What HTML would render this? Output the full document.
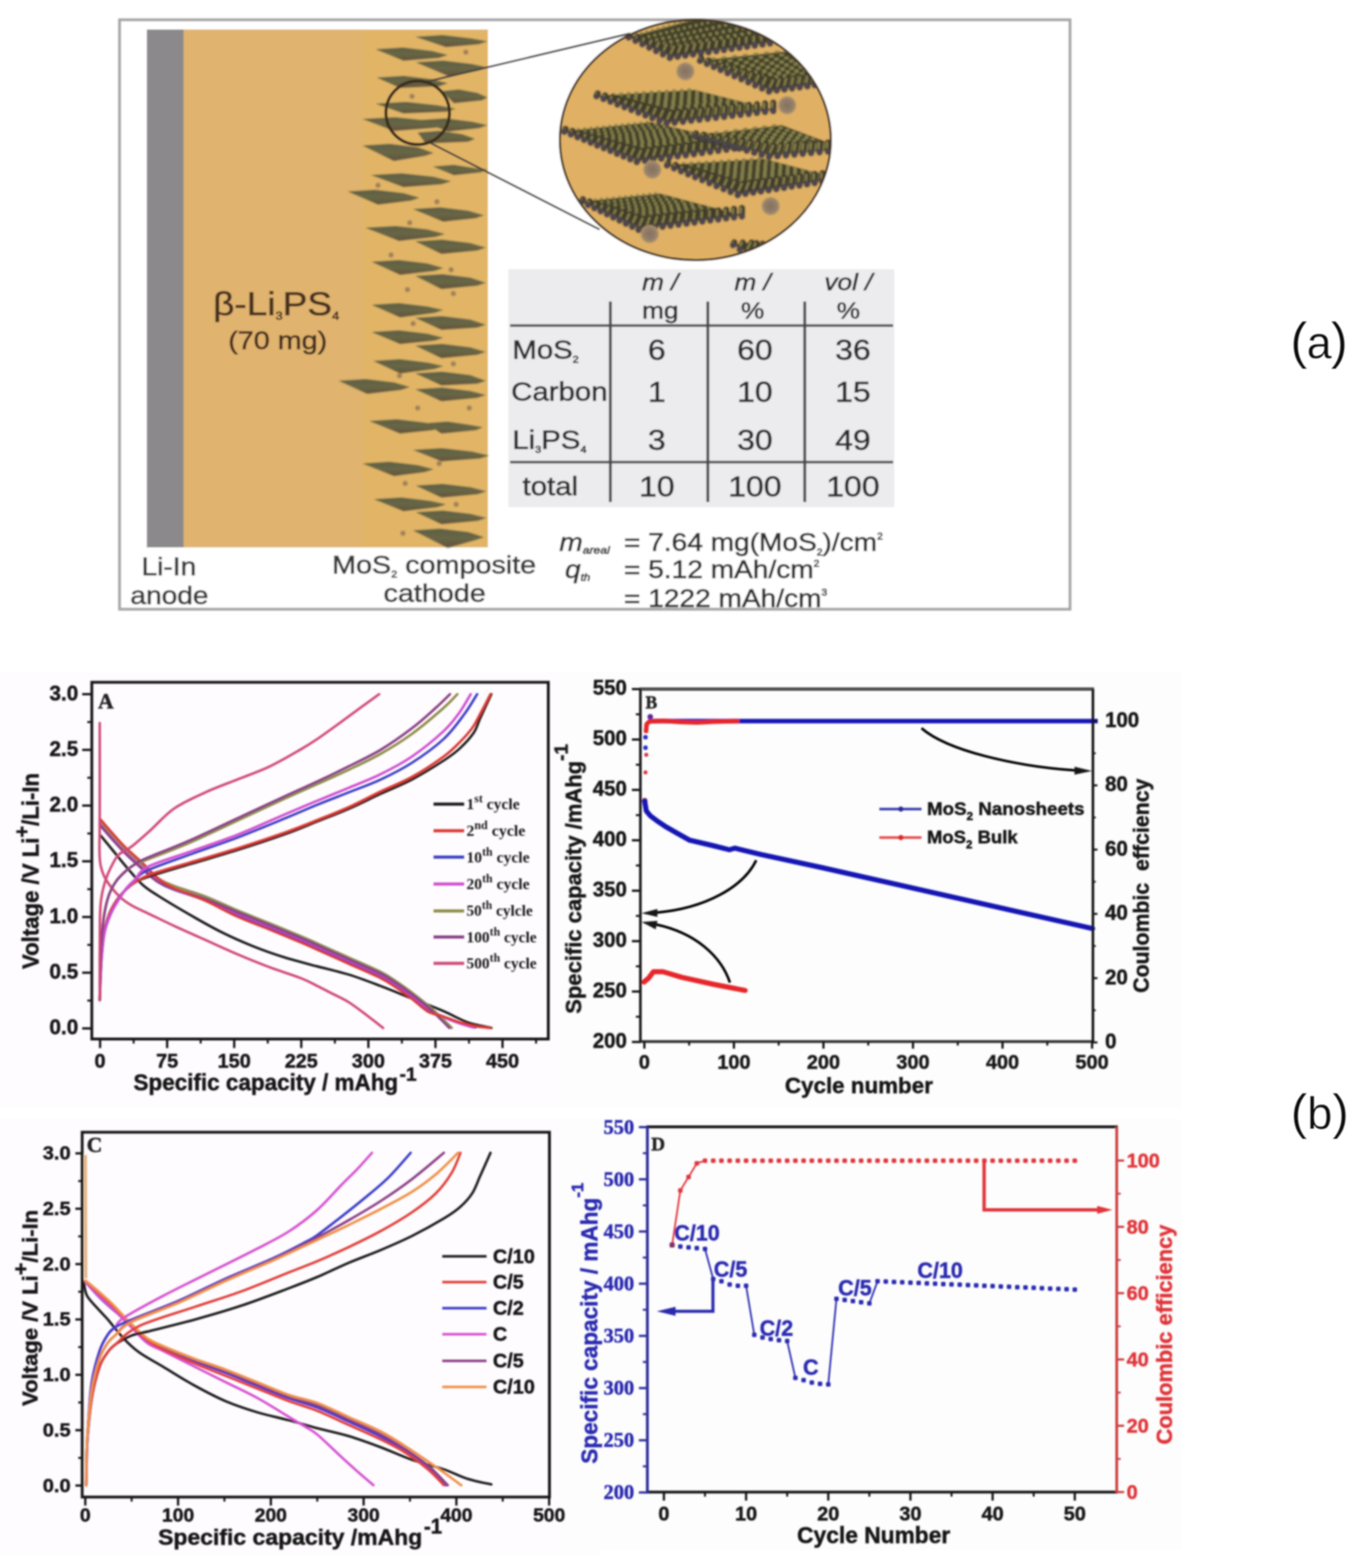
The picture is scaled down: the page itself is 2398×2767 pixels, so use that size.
<!DOCTYPE html>
<html lang="en"><head><meta charset="utf-8"><title>MoS2 nanosheet solid-state battery figure</title>
<style>html,body{margin:0;padding:0;background:#fff;}body{width:2398px;height:2767px;overflow:hidden;}svg{display:block;}text{white-space:pre;}</style></head><body>
<svg width="2398" height="2767" viewBox="0 0 2398 2767">
<defs><filter id="b1" x="-5%" y="-5%" width="110%" height="110%"><feGaussianBlur stdDeviation="1.2"/></filter><filter id="bA" x="-2%" y="-2%" width="104%" height="104%"><feGaussianBlur stdDeviation="1.5"/></filter><filter id="bC" x="-2%" y="-2%" width="104%" height="104%"><feGaussianBlur stdDeviation="1.6"/></filter><filter id="bL" x="-20%" y="-20%" width="140%" height="140%"><feGaussianBlur stdDeviation="0.9"/></filter></defs>
<rect width="2398" height="2767" fill="#fff"/>
<g id="panel-a" filter="url(#bA)">
<defs>
<linearGradient id="shg" x1="0" y1="0" x2="0" y2="1"><stop offset="0" stop-color="#636449"/><stop offset="0.5" stop-color="#6f6e48"/><stop offset="1" stop-color="#68563f"/></linearGradient>
<pattern id="rods" width="9" height="40" patternUnits="userSpaceOnUse" patternTransform="skewX(-18)"><rect width="9" height="40" fill="#4f4b36"/><rect x="0" width="4.5" height="40" fill="#9c954e"/></pattern>
<pattern id="vst" width="5" height="10" patternUnits="userSpaceOnUse"><rect width="2.2" height="10" fill="#3c3a2a"/></pattern>
<clipPath id="bigc"><ellipse cx="1227" cy="247" rx="238" ry="211"/></clipPath>
<radialGradient id="cd"><stop offset="0" stop-color="#85705f"/><stop offset="0.7" stop-color="#94806a"/><stop offset="1" stop-color="#b39668"/></radialGradient>
</defs>
<rect x="211" y="35" width="1677" height="1040" fill="#fff" stroke="#a6a6a6" stroke-width="5"/>
<rect x="259" y="52" width="66" height="914" fill="#8b898b" />
<rect x="324" y="52" width="537" height="914" fill="#e0b36e" />
<rect x="640" y="52" width="221" height="914" fill="#e2b566" />
<g filter="url(#b1)">
<path d="M733,65L781.3,62L832.1,68L860,73L844.8,78L787,83Z" fill="url(#shg)"/>
<path d="M733,65L781.3,62L832.1,68L860,73L844.8,78L787,83Z" fill="url(#vst)" opacity="0.35"/>
<path d="M663,87L711.3,84L762.1,90L790,97L774.8,102L712,107Z" fill="url(#shg)"/>
<path d="M663,87L711.3,84L762.1,90L790,97L774.8,102L712,107Z" fill="url(#vst)" opacity="0.35"/>
<path d="M734,110L781.9,107L832.3,113L860,119L844.9,124L793,135Z" fill="url(#shg)"/>
<path d="M734,110L781.9,107L832.3,113L860,119L844.9,124L793,135Z" fill="url(#vst)" opacity="0.35"/>
<path d="M665,137L712.5,134L762.5,140L790,147L775,152L706,155Z" fill="url(#shg)"/>
<path d="M665,137L712.5,134L762.5,140L790,147L775,152L706,155Z" fill="url(#vst)" opacity="0.35"/>
<path d="M779,161L809.8,158L842.2,164L860,172L850.3,177L801,182Z" fill="url(#shg)"/>
<path d="M779,161L809.8,158L842.2,164L860,172L850.3,177L801,182Z" fill="url(#vst)" opacity="0.35"/>
<path d="M663,183L716.6,180L773,186L804,192L787.1,197L712,200Z" fill="url(#shg)"/>
<path d="M663,183L716.6,180L773,186L804,192L787.1,197L712,200Z" fill="url(#vst)" opacity="0.35"/>
<path d="M640,210L697,207L757,213L790,220L772,225L695,231Z" fill="url(#shg)"/>
<path d="M640,210L697,207L757,213L790,220L772,225L695,231Z" fill="url(#vst)" opacity="0.35"/>
<path d="M740,212L785.6,209L833.6,215L860,221L845.6,226L790,232Z" fill="url(#shg)"/>
<path d="M740,212L785.6,209L833.6,215L860,221L845.6,226L790,232Z" fill="url(#vst)" opacity="0.35"/>
<path d="M737,234L775.4,231L815.8,237L838,245L825.9,250L751,253Z" fill="url(#shg)"/>
<path d="M737,234L775.4,231L815.8,237L838,245L825.9,250L751,253Z" fill="url(#vst)" opacity="0.35"/>
<path d="M640,257L687.5,254L737.5,260L765,270L750,275L695,284Z" fill="url(#shg)"/>
<path d="M640,257L687.5,254L737.5,260L765,270L750,275L695,284Z" fill="url(#vst)" opacity="0.35"/>
<path d="M764,294L800.5,291L838.9,297L860,299L848.5,304L801,309Z" fill="url(#shg)"/>
<path d="M764,294L800.5,291L838.9,297L860,299L848.5,304L801,309Z" fill="url(#vst)" opacity="0.35"/>
<path d="M655,309L708.6,306L765,312L796,320L779.1,325L712,330Z" fill="url(#shg)"/>
<path d="M655,309L708.6,306L765,312L796,320L779.1,325L712,330Z" fill="url(#vst)" opacity="0.35"/>
<path d="M614,338L661.9,335L712.3,341L740,349L724.9,354L667,361Z" fill="url(#shg)"/>
<path d="M614,338L661.9,335L712.3,341L740,349L724.9,354L667,361Z" fill="url(#vst)" opacity="0.35"/>
<path d="M729,369L776.5,366L826.5,372L854,380L839,385L782,391Z" fill="url(#shg)"/>
<path d="M729,369L776.5,366L826.5,372L854,380L839,385L782,391Z" fill="url(#vst)" opacity="0.35"/>
<path d="M645,402L698.2,399L754.2,405L785,413L768.2,418L704,425Z" fill="url(#shg)"/>
<path d="M645,402L698.2,399L754.2,405L785,413L768.2,418L704,425Z" fill="url(#vst)" opacity="0.35"/>
<path d="M733,426L780.1,423L829.7,429L857,437L842.1,442L779,448Z" fill="url(#shg)"/>
<path d="M733,426L780.1,423L829.7,429L857,437L842.1,442L779,448Z" fill="url(#vst)" opacity="0.35"/>
<path d="M656,462L703.9,459L754.3,465L782,473L766.9,478L706,485Z" fill="url(#shg)"/>
<path d="M656,462L703.9,459L754.3,465L782,473L766.9,478L706,485Z" fill="url(#vst)" opacity="0.35"/>
<path d="M733,487L780.1,484L829.7,490L857,499L842.1,504L779,510Z" fill="url(#shg)"/>
<path d="M733,487L780.1,484L829.7,490L857,499L842.1,504L779,510Z" fill="url(#vst)" opacity="0.35"/>
<path d="M656,538L703.9,535L754.3,541L782,547L766.9,552L706,560Z" fill="url(#shg)"/>
<path d="M656,538L703.9,535L754.3,541L782,547L766.9,552L706,560Z" fill="url(#vst)" opacity="0.35"/>
<path d="M733,561L780.1,558L829.7,564L857,573L842.1,578L779,582Z" fill="url(#shg)"/>
<path d="M733,561L780.1,558L829.7,564L857,573L842.1,578L779,582Z" fill="url(#vst)" opacity="0.35"/>
<path d="M656,586L703.9,583L754.3,589L782,596L766.9,601L706,607Z" fill="url(#shg)"/>
<path d="M656,586L703.9,583L754.3,589L782,596L766.9,601L706,607Z" fill="url(#vst)" opacity="0.35"/>
<path d="M733,610L780.1,607L829.7,613L857,621L842.1,626L779,632Z" fill="url(#shg)"/>
<path d="M733,610L780.1,607L829.7,613L857,621L842.1,626L779,632Z" fill="url(#vst)" opacity="0.35"/>
<path d="M659,637L705.7,634L754.9,640L782,646L767.2,651L706,659Z" fill="url(#shg)"/>
<path d="M659,637L705.7,634L754.9,640L782,646L767.2,651L706,659Z" fill="url(#vst)" opacity="0.35"/>
<path d="M733,659L780.1,656L829.7,662L857,672L842.1,677L779,680Z" fill="url(#shg)"/>
<path d="M733,659L780.1,656L829.7,662L857,672L842.1,677L779,680Z" fill="url(#vst)" opacity="0.35"/>
<path d="M598,672L645.5,669L695.5,675L723,683L708,688L648,695Z" fill="url(#shg)"/>
<path d="M598,672L645.5,669L695.5,675L723,683L708,688L648,695Z" fill="url(#vst)" opacity="0.35"/>
<path d="M733,687L780.1,684L829.7,690L857,697L842.1,702L779,708Z" fill="url(#shg)"/>
<path d="M733,687L780.1,684L829.7,690L857,697L842.1,702L779,708Z" fill="url(#vst)" opacity="0.35"/>
<path d="M652,743L700.3,740L751.1,746L779,754L763.8,759L706,765Z" fill="url(#shg)"/>
<path d="M652,743L700.3,740L751.1,746L779,754L763.8,759L706,765Z" fill="url(#vst)" opacity="0.35"/>
<path d="M751,747L789.4,744L829.8,750L852,754L839.9,759L779,765Z" fill="url(#shg)"/>
<path d="M751,747L789.4,744L829.8,750L852,754L839.9,759L779,765Z" fill="url(#vst)" opacity="0.35"/>
<path d="M729,794L779.9,791L833.5,797L863,804L846.9,809L779,814Z" fill="url(#shg)"/>
<path d="M729,794L779.9,791L833.5,797L863,804L846.9,809L779,814Z" fill="url(#vst)" opacity="0.35"/>
<path d="M640,818L687.5,815L737.5,821L765,828L750,833L695,840Z" fill="url(#shg)"/>
<path d="M640,818L687.5,815L737.5,821L765,828L750,833L695,840Z" fill="url(#vst)" opacity="0.35"/>
<path d="M734,857L781.1,854L830.7,860L858,867L843.1,872L779,878Z" fill="url(#shg)"/>
<path d="M734,857L781.1,854L830.7,860L858,867L843.1,872L779,878Z" fill="url(#vst)" opacity="0.35"/>
<path d="M660,881L708.3,878L759.1,884L787,890L771.8,895L712,902Z" fill="url(#shg)"/>
<path d="M660,881L708.3,878L759.1,884L787,890L771.8,895L712,902Z" fill="url(#vst)" opacity="0.35"/>
<path d="M734,904L781.1,901L830.7,907L858,914L843.1,919L779,925Z" fill="url(#shg)"/>
<path d="M734,904L781.1,901L830.7,907L858,914L843.1,919L779,925Z" fill="url(#vst)" opacity="0.35"/>
<path d="M729,936L776.5,933L826.5,939L854,948L839,953L790,967Z" fill="url(#shg)"/>
<path d="M729,936L776.5,933L826.5,939L854,948L839,953L790,967Z" fill="url(#vst)" opacity="0.35"/>
<circle cx="822" cy="92" r="4.5" fill="#a07f58"/>
<circle cx="727" cy="170" r="4.5" fill="#a07f58"/>
<circle cx="667" cy="327" r="4.5" fill="#a07f58"/>
<circle cx="771" cy="356" r="4.5" fill="#a07f58"/>
<circle cx="723" cy="393" r="4.5" fill="#a07f58"/>
<circle cx="690" cy="450" r="4.5" fill="#a07f58"/>
<circle cx="719" cy="511" r="4.5" fill="#a07f58"/>
<circle cx="800" cy="518" r="4.5" fill="#a07f58"/>
<circle cx="796" cy="476" r="4.5" fill="#a07f58"/>
<circle cx="729" cy="571" r="4.5" fill="#a07f58"/>
<circle cx="800" cy="642" r="4.5" fill="#a07f58"/>
<circle cx="705" cy="663" r="4.5" fill="#a07f58"/>
<circle cx="737" cy="720" r="4.5" fill="#a07f58"/>
<circle cx="828" cy="720" r="4.5" fill="#a07f58"/>
<circle cx="775" cy="818" r="4.5" fill="#a07f58"/>
<circle cx="715" cy="853" r="4.5" fill="#a07f58"/>
<circle cx="805" cy="890" r="4.5" fill="#a07f58"/>
<circle cx="711" cy="941" r="4.5" fill="#a07f58"/>
</g>
<line x1="745" y1="146" x2="1112" y2="59" stroke="#4a4440" stroke-width="3.5" />
<line x1="755" y1="250" x2="1058" y2="405" stroke="#4a4440" stroke-width="3.5" />
<circle cx="737" cy="199" r="56" fill="none" stroke="#3b2d1e" stroke-width="5.5"/>
<ellipse cx="1227" cy="247" rx="239" ry="212" fill="#e0b165"/>
<g clip-path="url(#bigc)"><g filter="url(#b1)">
<path d="M1109.6,65.4L1256.9,26.1L1385.9,70.6L1183.3,99.2Z" fill="#423f2c"/>
<path d="M1109.6,64.4L1256.9,25.1" stroke="#86814a" stroke-width="4.5" stroke-dasharray="4.6 5.6" fill="none"/>
<path d="M1121.9,70.1L1278.4,32.6" stroke="#86814a" stroke-width="5" stroke-dasharray="4.8 5.9" fill="none"/>
<path d="M1134.2,75.7L1299.9,40" stroke="#86814a" stroke-width="5.5" stroke-dasharray="5.1 6.2" fill="none"/>
<path d="M1146.4,81.3L1321.4,47.4" stroke="#86814a" stroke-width="6" stroke-dasharray="5.3 6.5" fill="none"/>
<path d="M1158.7,86.9L1342.9,54.8" stroke="#86814a" stroke-width="6.5" stroke-dasharray="5.6 6.9" fill="none"/>
<path d="M1171,92.6L1364.4,62.2" stroke="#86814a" stroke-width="7" stroke-dasharray="5.9 7.2" fill="none"/>
<path d="M1183.3,98.2L1385.9,69.6" stroke="#86814a" stroke-width="7.5" stroke-dasharray="6.1 7.5" fill="none"/>
<path d="M1111.5,61.2L1109.3,66.2M1124.8,64.7L1121.4,72.2M1138,68.2L1133.5,78.2M1151.2,71.7L1145.6,84.2M1164.5,75.2L1157.7,90.2M1177.7,78.7L1169.8,96.2M1190.9,82.2L1181.9,102.2M1203.3,80.6L1195.6,100.2M1215.8,79L1209.3,98.3M1228.4,77.3L1223,96.3M1241.1,75.7L1236.6,94.4M1253.9,74.1L1250.2,92.4M1266.8,72.5L1263.9,90.5M1279.7,70.9L1277.5,88.5M1292.8,69.2L1291.1,86.6M1305.9,67.6L1304.6,84.6M1319,66L1318.2,82.7M1332.3,64.4L1331.8,80.7M1345.6,62.8L1345.3,78.8M1358.9,61.1L1358.8,76.8M1372.4,59.5L1372.3,74.8M1385.9,57.9L1385.9,72.9" stroke="#3f3b2c" stroke-width="11" stroke-linecap="round" fill="none"/>
<path d="M1109.5,61.2L1108.2,64.2M1122.8,64.7L1120.7,69.2M1136,68.2L1133.3,74.2M1149.2,71.7L1145.8,79.2M1162.5,75.2L1158.4,84.2M1175.7,78.7L1171,89.2M1188.9,82.2L1183.5,94.2M1201.3,80.6L1196.7,92.4M1213.8,79L1209.9,90.6M1226.4,77.3L1223.2,88.7M1239.1,75.7L1236.4,86.9M1251.9,74.1L1249.7,85.1M1264.8,72.5L1263,83.3M1277.7,70.9L1276.4,81.5M1290.8,69.2L1289.7,79.6M1303.9,67.6L1303.1,77.8M1317,66L1316.5,76M1330.3,64.4L1330,74.2M1343.6,62.8L1343.4,72.4M1356.9,61.1L1356.9,70.5M1370.4,59.5L1370.4,68.7M1383.9,57.9L1383.9,66.9" stroke="#878148" stroke-width="4" stroke-linecap="round" fill="none"/>
<path d="M1109.6,65.4L1109.3,66.2M1121.9,71.1L1121.4,72.2M1134.2,76.7L1133.5,78.2M1146.4,82.3L1145.6,84.2M1158.7,87.9L1157.7,90.2M1171,93.6L1169.8,96.2M1183.3,99.2L1181.9,102.2M1196.8,97.3L1195.6,100.2M1210.3,95.4L1209.3,98.3M1223.8,93.5L1223,96.3M1237.3,91.6L1236.6,94.4M1250.8,89.7L1250.2,92.4M1264.3,87.8L1263.9,90.5M1277.8,85.9L1277.5,88.5M1291.3,84L1291.1,86.6M1304.8,82.1L1304.6,84.6M1318.3,80.2L1318.2,82.7M1331.8,78.3L1331.8,80.7M1345.3,76.4L1345.3,78.8M1358.8,74.5L1358.8,76.8M1372.3,72.5L1372.3,74.8M1385.9,70.6L1385.9,72.9" stroke="#4d4550" stroke-width="9" stroke-linecap="round" fill="none"/>
<path d="M1235.5,106.9L1404.3,89.1L1477.9,142.8L1358.2,158.7Z" fill="#423f2c"/>
<path d="M1235.5,105.9L1404.3,88.1" stroke="#86814a" stroke-width="4.5" stroke-dasharray="8.5 10.4" fill="none"/>
<path d="M1247.7,111.1L1411.6,93.4" stroke="#86814a" stroke-width="4.8" stroke-dasharray="8.2 10.1" fill="none"/>
<path d="M1260,116.2L1419,98.8" stroke="#86814a" stroke-width="5.1" stroke-dasharray="8 9.8" fill="none"/>
<path d="M1272.3,121.4L1426.4,104.2" stroke="#86814a" stroke-width="5.4" stroke-dasharray="7.8 9.5" fill="none"/>
<path d="M1284.6,126.6L1433.7,109.5" stroke="#86814a" stroke-width="5.7" stroke-dasharray="7.5 9.2" fill="none"/>
<path d="M1296.8,131.8L1441.1,114.9" stroke="#86814a" stroke-width="6" stroke-dasharray="7.3 8.9" fill="none"/>
<path d="M1309.1,137L1448.5,120.3" stroke="#86814a" stroke-width="6.3" stroke-dasharray="7 8.6" fill="none"/>
<path d="M1321.4,142.2L1455.8,125.7" stroke="#86814a" stroke-width="6.6" stroke-dasharray="6.8 8.3" fill="none"/>
<path d="M1333.7,147.4L1463.2,131" stroke="#86814a" stroke-width="6.9" stroke-dasharray="6.5 8" fill="none"/>
<path d="M1345.9,152.5L1470.6,136.4" stroke="#86814a" stroke-width="7.2" stroke-dasharray="6.3 7.7" fill="none"/>
<path d="M1358.2,157.7L1477.9,141.8" stroke="#86814a" stroke-width="7.5" stroke-dasharray="6 7.4" fill="none"/>
<path d="M1237.4,102.6L1235.1,107.6M1250.2,106.5L1247.3,113M1263.1,110.4L1259.5,118.4M1275.9,114.3L1271.6,123.8M1288.8,118.3L1283.8,129.3M1301.6,122.2L1296,134.7M1314.5,126.1L1308.2,140.1M1327.3,130L1320.3,145.5M1340.2,133.9L1332.5,150.9M1353,137.8L1344.7,156.3M1365.9,141.7L1356.9,161.7M1377.4,140.4L1370.5,159.9M1389.2,139.1L1384.1,158M1401.2,137.8L1397.6,156.2M1413.5,136.5L1411.1,154.3M1426,135.2L1424.5,152.5M1438.7,133.9L1437.9,150.6M1451.6,132.6L1451.3,148.7M1464.7,131.3L1464.6,146.9M1477.9,130L1477.9,145" stroke="#3f3b2c" stroke-width="11" stroke-linecap="round" fill="none"/>
<path d="M1235.4,102.6L1234,105.6M1248.2,106.5L1246.5,110.4M1261.1,110.4L1258.9,115.2M1273.9,114.3L1271.4,120M1286.8,118.3L1283.8,124.9M1299.6,122.2L1296.2,129.7M1312.5,126.1L1308.7,134.5M1325.3,130L1321.1,139.3M1338.2,133.9L1333.6,144.1M1351,137.8L1346,148.9M1363.9,141.7L1358.5,153.7M1375.4,140.4L1371.3,152.1M1387.2,139.1L1384.1,150.5M1399.2,137.8L1397,148.8M1411.5,136.5L1410,147.2M1424,135.2L1423.1,145.6M1436.7,133.9L1436.2,143.9M1449.6,132.6L1449.4,142.3M1462.7,131.3L1462.7,140.7M1475.9,130L1475.9,139" stroke="#878148" stroke-width="4" stroke-linecap="round" fill="none"/>
<path d="M1235.5,106.9L1235.1,107.6M1247.7,112.1L1247.3,113M1260,117.2L1259.5,118.4M1272.3,122.4L1271.6,123.8M1284.6,127.6L1283.8,129.3M1296.8,132.8L1296,134.7M1309.1,138L1308.2,140.1M1321.4,143.2L1320.3,145.5M1333.7,148.4L1332.5,150.9M1345.9,153.5L1344.7,156.3M1358.2,158.7L1356.9,161.7M1371.5,157L1370.5,159.9M1384.8,155.2L1384.1,158M1398.1,153.4L1397.6,156.2M1411.4,151.6L1411.1,154.3M1424.7,149.9L1424.5,152.5M1438,148.1L1437.9,150.6M1451.3,146.3L1451.3,148.7M1464.6,144.5L1464.6,146.9M1477.9,142.8L1477.9,145" stroke="#4d4550" stroke-width="9" stroke-linecap="round" fill="none"/>
<path d="M1052.8,169.2L1226.2,158.7L1364.4,193.7L1177.1,215.5Z" fill="#423f2c"/>
<path d="M1052.8,168.2L1226.2,157.7" stroke="#86814a" stroke-width="4.5" stroke-dasharray="6 7.4" fill="none"/>
<path d="M1065.3,172.8L1240.1,161.2" stroke="#86814a" stroke-width="4.8" stroke-dasharray="6.1 7.4" fill="none"/>
<path d="M1077.7,177.4L1253.9,164.7" stroke="#86814a" stroke-width="5.1" stroke-dasharray="6.1 7.5" fill="none"/>
<path d="M1090.1,182.1L1267.7,168.2" stroke="#86814a" stroke-width="5.4" stroke-dasharray="6.2 7.5" fill="none"/>
<path d="M1102.5,186.7L1281.5,171.7" stroke="#86814a" stroke-width="5.7" stroke-dasharray="6.2 7.6" fill="none"/>
<path d="M1115,191.3L1295.3,175.2" stroke="#86814a" stroke-width="6" stroke-dasharray="6.3 7.7" fill="none"/>
<path d="M1127.4,196L1309.1,178.7" stroke="#86814a" stroke-width="6.3" stroke-dasharray="6.3 7.7" fill="none"/>
<path d="M1139.8,200.6L1322.9,182.2" stroke="#86814a" stroke-width="6.6" stroke-dasharray="6.4 7.8" fill="none"/>
<path d="M1152.3,205.2L1336.7,185.7" stroke="#86814a" stroke-width="6.9" stroke-dasharray="6.4 7.8" fill="none"/>
<path d="M1164.7,209.9L1350.6,189.2" stroke="#86814a" stroke-width="7.2" stroke-dasharray="6.5 7.9" fill="none"/>
<path d="M1177.1,214.5L1364.4,192.7" stroke="#86814a" stroke-width="7.5" stroke-dasharray="6.5 8" fill="none"/>
<path d="M1054.7,164.9L1052.5,169.9M1067.7,168.3L1064.8,174.8M1080.7,171.6L1077.1,179.6M1093.8,175L1089.5,184.5M1106.8,178.4L1101.8,189.4M1119.8,181.7L1114.1,194.2M1132.8,185.1L1126.5,199.1M1145.8,188.4L1138.8,203.9M1158.8,191.8L1151.1,208.8M1171.8,195.2L1163.5,213.7M1184.8,198.5L1175.8,218.5M1197.9,197.2L1190.4,216.8M1211.2,195.8L1205,215.1M1224.6,194.5L1219.6,213.3M1238.1,193.1L1234.1,211.6M1251.8,191.8L1248.7,209.8M1265.5,190.4L1263.2,208.1M1279.4,189.1L1277.7,206.4M1293.3,187.7L1292.2,204.6M1307.4,186.4L1306.6,202.9M1321.5,185L1321.1,201.2M1335.7,183.7L1335.5,199.4M1350,182.3L1350,197.7M1364.4,181L1364.4,196" stroke="#3f3b2c" stroke-width="11" stroke-linecap="round" fill="none"/>
<path d="M1052.7,164.9L1051.4,167.9M1065.7,168.3L1064,172.2M1078.7,171.6L1076.6,176.4M1091.8,175L1089.2,180.7M1104.8,178.4L1101.8,185M1117.8,181.7L1114.4,189.2M1130.8,185.1L1127,193.5M1143.8,188.4L1139.6,197.7M1156.8,191.8L1152.2,202M1169.8,195.2L1164.8,206.3M1182.8,198.5L1177.4,210.5M1195.9,197.2L1191.4,208.9M1209.2,195.8L1205.5,207.4M1222.6,194.5L1219.6,205.8M1236.1,193.1L1233.7,204.2M1249.8,191.8L1247.9,202.6M1263.5,190.4L1262.1,201M1277.4,189.1L1276.4,199.5M1291.3,187.7L1290.6,197.9M1305.4,186.4L1304.9,196.3M1319.5,185L1319.3,194.7M1333.7,183.7L1333.6,193.1M1348,182.3L1348,191.6M1362.4,181L1362.4,190" stroke="#878148" stroke-width="4" stroke-linecap="round" fill="none"/>
<path d="M1052.8,169.2L1052.5,169.9M1065.3,173.8L1064.8,174.8M1077.7,178.4L1077.1,179.6M1090.1,183.1L1089.5,184.5M1102.5,187.7L1101.8,189.4M1115,192.3L1114.1,194.2M1127.4,197L1126.5,199.1M1139.8,201.6L1138.8,203.9M1152.3,206.2L1151.1,208.8M1164.7,210.9L1163.5,213.7M1177.1,215.5L1175.8,218.5M1191.5,213.8L1190.4,216.8M1205.9,212.2L1205,215.1M1220.3,210.5L1219.6,213.3M1234.7,208.8L1234.1,211.6M1249.1,207.1L1248.7,209.8M1263.5,205.5L1263.2,208.1M1278,203.8L1277.7,206.4M1292.4,202.1L1292.2,204.6M1306.8,200.4L1306.6,202.9M1321.2,198.8L1321.1,201.2M1335.6,197.1L1335.5,199.4M1350,195.4L1350,197.7M1364.4,193.7L1364.4,196" stroke="#4d4550" stroke-width="9" stroke-linecap="round" fill="none"/>
<path d="M996,231.8L1149.5,215.8L1324.5,256.3L1125,283Z" fill="#423f2c"/>
<path d="M996,230.8L1149.5,214.8" stroke="#86814a" stroke-width="4.5" stroke-dasharray="5 6.1" fill="none"/>
<path d="M1007.8,235.4L1165.4,218.5" stroke="#86814a" stroke-width="4.8" stroke-dasharray="5.1 6.2" fill="none"/>
<path d="M1019.5,240.1L1181.3,222.2" stroke="#86814a" stroke-width="5" stroke-dasharray="5.2 6.4" fill="none"/>
<path d="M1031.2,244.8L1197.2,225.9" stroke="#86814a" stroke-width="5.3" stroke-dasharray="5.4 6.6" fill="none"/>
<path d="M1042.9,249.4L1213.1,229.6" stroke="#86814a" stroke-width="5.6" stroke-dasharray="5.5 6.7" fill="none"/>
<path d="M1054.6,254.1L1229,233.2" stroke="#86814a" stroke-width="5.9" stroke-dasharray="5.6 6.9" fill="none"/>
<path d="M1066.4,258.7L1244.9,236.9" stroke="#86814a" stroke-width="6.1" stroke-dasharray="5.8 7.1" fill="none"/>
<path d="M1078.1,263.4L1260.8,240.6" stroke="#86814a" stroke-width="6.4" stroke-dasharray="5.9 7.2" fill="none"/>
<path d="M1089.8,268.1L1276.7,244.3" stroke="#86814a" stroke-width="6.7" stroke-dasharray="6.1 7.4" fill="none"/>
<path d="M1101.5,272.7L1292.7,248" stroke="#86814a" stroke-width="7" stroke-dasharray="6.2 7.6" fill="none"/>
<path d="M1113.2,277.4L1308.6,251.7" stroke="#86814a" stroke-width="7.2" stroke-dasharray="6.3 7.7" fill="none"/>
<path d="M1125,282L1324.5,255.3" stroke="#86814a" stroke-width="7.5" stroke-dasharray="6.5 7.9" fill="none"/>
<path d="M998,227.5L995.7,232.5M1010.2,231L1007.3,237.4M1022.4,234.5L1019,242.3M1034.7,238L1030.6,247.1M1046.9,241.5L1042.2,252M1059.2,245L1053.8,256.9M1071.4,248.5L1065.5,261.7M1083.6,252L1077.1,266.6M1095.9,255.5L1088.7,271.5M1108.1,259L1100.3,276.3M1120.4,262.5L1112,281.2M1132.6,266L1123.6,286M1145.7,264.4L1138.1,284.1M1158.9,262.8L1152.5,282.1M1172.2,261.2L1166.9,280.2M1185.6,259.6L1181.3,278.2M1199.1,258L1195.7,276.2M1212.7,256.4L1210.1,274.3M1226.4,254.8L1224.4,272.3M1240.2,253.2L1238.7,270.4M1254,251.6L1253.1,268.4M1268,250L1267.4,266.4M1282,248.4L1281.7,264.5M1296.1,246.8L1295.9,262.5M1310.2,245.2L1310.2,260.6M1324.5,243.6L1324.5,258.6" stroke="#3f3b2c" stroke-width="11" stroke-linecap="round" fill="none"/>
<path d="M996,227.5L994.6,230.5M1008.2,231L1006.5,234.9M1020.4,234.5L1018.3,239.2M1032.7,238L1030.2,243.5M1044.9,241.5L1042.1,247.8M1057.2,245L1054,252.1M1069.4,248.5L1065.8,256.5M1081.6,252L1077.7,260.8M1093.9,255.5L1089.6,265.1M1106.1,259L1101.5,269.4M1118.4,262.5L1113.3,273.7M1130.6,266L1125.2,278M1143.7,264.4L1139.1,276.2M1156.9,262.8L1153,274.4M1170.2,261.2L1167,272.6M1183.6,259.6L1181,270.8M1197.1,258L1195.1,269M1210.7,256.4L1209.1,267.1M1224.4,254.8L1223.2,265.3M1238.2,253.2L1237.3,263.5M1252,251.6L1251.5,261.7M1266,250L1265.6,259.9M1280,248.4L1279.8,258M1294.1,246.8L1294,256.2M1308.2,245.2L1308.2,254.4M1322.5,243.6L1322.5,252.6" stroke="#878148" stroke-width="4" stroke-linecap="round" fill="none"/>
<path d="M996,231.8L995.7,232.5M1007.8,236.4L1007.3,237.4M1019.5,241.1L1019,242.3M1031.2,245.8L1030.6,247.1M1042.9,250.4L1042.2,252M1054.6,255.1L1053.8,256.9M1066.4,259.7L1065.5,261.7M1078.1,264.4L1077.1,266.6M1089.8,269.1L1088.7,271.5M1101.5,273.7L1100.3,276.3M1113.2,278.4L1112,281.2M1125,283L1123.6,286M1139.2,281.1L1138.1,284.1M1153.5,279.2L1152.5,282.1M1167.7,277.3L1166.9,280.2M1182,275.4L1181.3,278.2M1196.2,273.5L1195.7,276.2M1210.5,271.6L1210.1,274.3M1224.7,269.7L1224.4,272.3M1239,267.8L1238.7,270.4M1253.2,265.9L1253.1,268.4M1267.5,264L1267.4,266.4M1281.7,262.1L1281.7,264.5M1296,260.2L1295.9,262.5M1310.2,258.2L1310.2,260.6M1324.5,256.3L1324.5,258.6" stroke="#4d4550" stroke-width="9" stroke-linecap="round" fill="none"/>
<path d="M1226.2,239.5L1379.7,221L1490.2,262.5L1358.2,274.1Z" fill="#423f2c"/>
<path d="M1226.2,238.5L1379.7,220" stroke="#86814a" stroke-width="4.5" stroke-dasharray="7.7 9.4" fill="none"/>
<path d="M1239.4,241.9L1390.8,224.2" stroke="#86814a" stroke-width="4.8" stroke-dasharray="7.6 9.3" fill="none"/>
<path d="M1252.6,245.4L1401.8,228.3" stroke="#86814a" stroke-width="5.1" stroke-dasharray="7.5 9.2" fill="none"/>
<path d="M1265.8,248.9L1412.9,232.5" stroke="#86814a" stroke-width="5.4" stroke-dasharray="7.4 9" fill="none"/>
<path d="M1279,252.3L1423.9,236.6" stroke="#86814a" stroke-width="5.7" stroke-dasharray="7.3 8.9" fill="none"/>
<path d="M1292.2,255.8L1435,240.8" stroke="#86814a" stroke-width="6" stroke-dasharray="7.2 8.8" fill="none"/>
<path d="M1305.4,259.3L1446,244.9" stroke="#86814a" stroke-width="6.3" stroke-dasharray="7.1 8.6" fill="none"/>
<path d="M1318.6,262.7L1457.1,249" stroke="#86814a" stroke-width="6.6" stroke-dasharray="7 8.5" fill="none"/>
<path d="M1331.8,266.2L1468.1,253.2" stroke="#86814a" stroke-width="6.9" stroke-dasharray="6.8 8.4" fill="none"/>
<path d="M1345,269.7L1479.2,257.3" stroke="#86814a" stroke-width="7.2" stroke-dasharray="6.7 8.2" fill="none"/>
<path d="M1358.2,273.1L1490.2,261.5" stroke="#86814a" stroke-width="7.5" stroke-dasharray="6.6 8.1" fill="none"/>
<path d="M1228.2,235.2L1225.9,240.2M1241.9,237.4L1239,243.9M1255.7,239.6L1252.1,247.6M1269.5,241.8L1265.2,251.3M1283.2,244L1278.3,255M1297,246.2L1291.4,258.7M1310.8,248.4L1304.5,262.4M1324.6,250.6L1317.6,266.1M1338.3,252.8L1330.7,269.8M1352.1,255L1343.8,273.5M1365.9,257.1L1356.9,277.1M1378.8,256.3L1371.9,275.8M1391.9,255.5L1386.8,274.4M1405.3,254.7L1401.7,273M1419,253.8L1416.5,271.6M1432.9,253L1431.3,270.2M1446.9,252.2L1446.1,268.9M1461.2,251.4L1460.8,267.5M1475.6,250.6L1475.5,266.1M1490.2,249.7L1490.2,264.7" stroke="#3f3b2c" stroke-width="11" stroke-linecap="round" fill="none"/>
<path d="M1226.2,235.2L1224.8,238.2M1239.9,237.4L1238.2,241.3M1253.7,239.6L1251.5,244.4M1267.5,241.8L1264.9,247.5M1281.2,244L1278.3,250.6M1295,246.2L1291.6,253.7M1308.8,248.4L1305,256.8M1322.6,250.6L1318.4,259.9M1336.3,252.8L1331.7,263M1350.1,255L1345.1,266.1M1363.9,257.1L1358.5,269.1M1376.8,256.3L1372.6,268M1389.9,255.5L1386.8,266.8M1403.3,254.7L1401.1,265.7M1417,253.8L1415.5,264.5M1430.9,253L1429.9,263.4M1444.9,252.2L1444.4,262.2M1459.2,251.4L1459,261M1473.6,250.6L1473.6,259.9M1488.2,249.7L1488.2,258.7" stroke="#878148" stroke-width="4" stroke-linecap="round" fill="none"/>
<path d="M1226.2,239.5L1225.9,240.2M1239.4,242.9L1239,243.9M1252.6,246.4L1252.1,247.6M1265.8,249.9L1265.2,251.3M1279,253.3L1278.3,255M1292.2,256.8L1291.4,258.7M1305.4,260.3L1304.5,262.4M1318.6,263.7L1317.6,266.1M1331.8,267.2L1330.7,269.8M1345,270.7L1343.8,273.5M1358.2,274.1L1356.9,277.1M1372.9,272.8L1371.9,275.8M1387.6,271.6L1386.8,274.4M1402.2,270.3L1401.7,273M1416.9,269L1416.5,271.6M1431.5,267.7L1431.3,270.2M1446.2,266.4L1446.1,268.9M1460.9,265.1L1460.8,267.5M1475.5,263.8L1475.5,266.1M1490.2,262.5L1490.2,264.7" stroke="#4d4550" stroke-width="9" stroke-linecap="round" fill="none"/>
<path d="M1177.1,291.3L1349,280.3L1477.9,314.7L1303,341.4Z" fill="#423f2c"/>
<path d="M1177.1,290.3L1349,279.3" stroke="#86814a" stroke-width="4.5" stroke-dasharray="6 7.3" fill="none"/>
<path d="M1189.7,295.3L1361.9,282.7" stroke="#86814a" stroke-width="4.8" stroke-dasharray="6 7.3" fill="none"/>
<path d="M1202.3,300.3L1374.8,286.2" stroke="#86814a" stroke-width="5.1" stroke-dasharray="6 7.3" fill="none"/>
<path d="M1214.9,305.3L1387.7,289.6" stroke="#86814a" stroke-width="5.4" stroke-dasharray="6 7.3" fill="none"/>
<path d="M1227.5,310.3L1400.6,293" stroke="#86814a" stroke-width="5.7" stroke-dasharray="6 7.4" fill="none"/>
<path d="M1240.1,315.3L1413.5,296.5" stroke="#86814a" stroke-width="6" stroke-dasharray="6 7.4" fill="none"/>
<path d="M1252.6,320.4L1426.4,299.9" stroke="#86814a" stroke-width="6.3" stroke-dasharray="6.1 7.4" fill="none"/>
<path d="M1265.2,325.4L1439.3,303.3" stroke="#86814a" stroke-width="6.6" stroke-dasharray="6.1 7.4" fill="none"/>
<path d="M1277.8,330.4L1452.1,306.8" stroke="#86814a" stroke-width="6.9" stroke-dasharray="6.1 7.4" fill="none"/>
<path d="M1290.4,335.4L1465,310.2" stroke="#86814a" stroke-width="7.2" stroke-dasharray="6.1 7.5" fill="none"/>
<path d="M1303,340.4L1477.9,313.7" stroke="#86814a" stroke-width="7.5" stroke-dasharray="6.1 7.5" fill="none"/>
<path d="M1179,287.1L1176.8,292.1M1192.2,290.8L1189.3,297.3M1205.4,294.5L1201.8,302.5M1218.5,298.3L1214.2,307.8M1231.7,302L1226.7,313M1244.8,305.7L1239.2,318.2M1258,309.5L1251.7,323.5M1271.2,313.2L1264.2,328.7M1284.3,316.9L1276.7,333.9M1297.5,320.6L1289.1,339.1M1310.6,324.4L1301.6,344.4M1322.8,322.6L1315.3,342.3M1335.2,320.9L1329,340.1M1347.6,319.2L1342.6,338M1360.2,317.5L1356.2,335.9M1372.9,315.7L1369.8,333.8M1385.7,314L1383.4,331.7M1398.6,312.3L1396.9,329.6M1411.6,310.5L1410.5,327.5M1424.7,308.8L1424,325.4M1437.9,307.1L1437.5,323.2M1451.2,305.4L1451,321.1M1464.5,303.6L1464.5,319M1477.9,301.9L1477.9,316.9" stroke="#3f3b2c" stroke-width="11" stroke-linecap="round" fill="none"/>
<path d="M1177,287.1L1175.7,290.1M1190.2,290.8L1188.4,294.7M1203.4,294.5L1201.2,299.3M1216.5,298.3L1214,304M1229.7,302L1226.7,308.6M1242.8,305.7L1239.5,313.2M1256,309.5L1252.2,317.9M1269.2,313.2L1265,322.5M1282.3,316.9L1277.7,327.1M1295.5,320.6L1290.5,331.7M1308.6,324.4L1303.2,336.4M1320.8,322.6L1316.3,334.4M1333.2,320.9L1329.4,332.4M1345.6,319.2L1342.6,330.5M1358.2,317.5L1355.8,328.5M1370.9,315.7L1369,326.6M1383.7,314L1382.3,324.6M1396.6,312.3L1395.6,322.7M1409.6,310.5L1408.9,320.7M1422.7,308.8L1422.3,318.7M1435.9,307.1L1435.7,316.8M1449.2,305.4L1449.1,314.8M1462.5,303.6L1462.5,312.9M1475.9,301.9L1475.9,310.9" stroke="#878148" stroke-width="4" stroke-linecap="round" fill="none"/>
<path d="M1177.1,291.3L1176.8,292.1M1189.7,296.3L1189.3,297.3M1202.3,301.3L1201.8,302.5M1214.9,306.3L1214.2,307.8M1227.5,311.3L1226.7,313M1240.1,316.3L1239.2,318.2M1252.6,321.4L1251.7,323.5M1265.2,326.4L1264.2,328.7M1277.8,331.4L1276.7,333.9M1290.4,336.4L1289.1,339.1M1303,341.4L1301.6,344.4M1316.4,339.3L1315.3,342.3M1329.9,337.3L1329,340.1M1343.4,335.2L1342.6,338M1356.8,333.1L1356.2,335.9M1370.3,331.1L1369.8,333.8M1383.7,329L1383.4,331.7M1397.2,327L1396.9,329.6M1410.6,324.9L1410.5,327.5M1424.1,322.9L1424,325.4M1437.6,320.8L1437.5,323.2M1451,318.8L1451,321.1M1464.5,316.7L1464.5,319M1477.9,314.7L1477.9,316.9" stroke="#4d4550" stroke-width="9" stroke-linecap="round" fill="none"/>
<path d="M1026.7,355.8L1164.9,341.7L1309.1,379.7L1128,402.8Z" fill="#423f2c"/>
<path d="M1026.7,354.8L1164.9,340.7" stroke="#86814a" stroke-width="4.5" stroke-dasharray="4.8 5.9" fill="none"/>
<path d="M1038,360L1180.9,344.9" stroke="#86814a" stroke-width="4.8" stroke-dasharray="5 6.1" fill="none"/>
<path d="M1049.2,365.2L1196.9,349.1" stroke="#86814a" stroke-width="5.2" stroke-dasharray="5.1 6.3" fill="none"/>
<path d="M1060.5,370.4L1212.9,353.4" stroke="#86814a" stroke-width="5.5" stroke-dasharray="5.3 6.5" fill="none"/>
<path d="M1071.8,375.7L1229,357.6" stroke="#86814a" stroke-width="5.8" stroke-dasharray="5.5 6.7" fill="none"/>
<path d="M1083,380.9L1245,361.8" stroke="#86814a" stroke-width="6.2" stroke-dasharray="5.6 6.9" fill="none"/>
<path d="M1094.3,386.1L1261,366" stroke="#86814a" stroke-width="6.5" stroke-dasharray="5.8 7.1" fill="none"/>
<path d="M1105.5,391.3L1277.1,370.3" stroke="#86814a" stroke-width="6.8" stroke-dasharray="6 7.3" fill="none"/>
<path d="M1116.8,396.5L1293.1,374.5" stroke="#86814a" stroke-width="7.2" stroke-dasharray="6.2 7.5" fill="none"/>
<path d="M1128,401.8L1309.1,378.7" stroke="#86814a" stroke-width="7.5" stroke-dasharray="6.3 7.7" fill="none"/>
<path d="M1028.6,351.5L1026.4,356.5M1040.5,355.3L1037.5,362M1052.4,359.1L1048.7,367.5M1064.3,362.9L1059.8,372.9M1076.2,366.7L1071,378.4M1088.1,370.5L1082.1,383.9M1100,374.3L1093.2,389.3M1111.9,378.1L1104.4,394.8M1123.8,381.9L1115.5,400.3M1135.7,385.8L1126.7,405.8M1148.3,384.3L1140.8,403.9M1161.2,382.9L1155,402.1M1174.1,381.4L1169.1,400.3M1187.1,380L1183.1,398.4M1200.3,378.5L1197.2,396.6M1213.6,377.1L1211.3,394.8M1226.9,375.6L1225.3,393M1240.4,374.2L1239.3,391.1M1254,372.8L1253.3,389.3M1267.7,371.3L1267.3,387.5M1281.4,369.9L1281.2,385.6M1295.2,368.4L1295.2,383.8M1309.1,367L1309.1,382" stroke="#3f3b2c" stroke-width="11" stroke-linecap="round" fill="none"/>
<path d="M1026.6,351.5L1025.3,354.5M1038.5,355.3L1036.7,359.3M1050.4,359.1L1048.2,364.1M1062.3,362.9L1059.6,368.9M1074.2,366.7L1071.1,373.7M1086.1,370.5L1082.5,378.5M1098,374.3L1093.9,383.3M1109.9,378.1L1105.4,388.1M1121.8,381.9L1116.8,392.9M1133.7,385.8L1128.3,397.8M1146.3,384.3L1141.8,396.1M1159.2,382.9L1155.4,394.4M1172.1,381.4L1169.1,392.7M1185.1,380L1182.7,391.1M1198.3,378.5L1196.4,389.4M1211.6,377.1L1210.2,387.7M1224.9,375.6L1223.9,386M1238.4,374.2L1237.7,384.4M1252,372.8L1251.6,382.7M1265.7,371.3L1265.4,381M1279.4,369.9L1279.3,379.3M1293.2,368.4L1293.2,377.7M1307.1,367L1307.1,376" stroke="#878148" stroke-width="4" stroke-linecap="round" fill="none"/>
<path d="M1026.7,355.8L1026.4,356.5M1038,361L1037.5,362M1049.2,366.2L1048.7,367.5M1060.5,371.4L1059.8,372.9M1071.8,376.7L1071,378.4M1083,381.9L1082.1,383.9M1094.3,387.1L1093.2,389.3M1105.5,392.3L1104.4,394.8M1116.8,397.5L1115.5,400.3M1128,402.8L1126.7,405.8M1142,401L1140.8,403.9M1155.9,399.2L1155,402.1M1169.8,397.4L1169.1,400.3M1183.7,395.7L1183.1,398.4M1197.7,393.9L1197.2,396.6M1211.6,392.1L1211.3,394.8M1225.5,390.4L1225.3,393M1239.5,388.6L1239.3,391.1M1253.4,386.8L1253.3,389.3M1267.3,385L1267.3,387.5M1281.3,383.3L1281.2,385.6M1295.2,381.5L1295.2,383.8M1309.1,379.7L1309.1,382" stroke="#4d4550" stroke-width="9" stroke-linecap="round" fill="none"/>
<path d="M1293.8,431.9L1336.7,425.8L1358.2,443.6L1318.3,445.1Z" fill="#423f2c"/>
<path d="M1293.8,430.9L1336.7,424.8" stroke="#86814a" stroke-width="4.5" stroke-dasharray="6.5 8" fill="none"/>
<path d="M1306,437.5L1347.5,433.7" stroke="#86814a" stroke-width="6" stroke-dasharray="6.2 7.6" fill="none"/>
<path d="M1318.3,444.1L1358.2,442.6" stroke="#86814a" stroke-width="7.5" stroke-dasharray="6 7.3" fill="none"/>
<path d="M1295.7,427.7L1293.4,432.7M1310.8,427.9L1305.2,440.4M1326,428.1L1317,448.1M1334.7,429L1331.1,447.3M1345.6,429.9L1344.8,446.6M1358.2,430.8L1358.2,445.8" stroke="#3f3b2c" stroke-width="11" stroke-linecap="round" fill="none"/>
<path d="M1293.7,427.7L1292.3,430.7M1308.8,427.9L1305.5,435.4M1324,428.1L1318.6,440.1M1332.7,429L1330.5,440M1343.6,429.9L1343.1,439.9M1356.2,430.8L1356.2,439.8" stroke="#878148" stroke-width="4" stroke-linecap="round" fill="none"/>
<path d="M1293.8,431.9L1293.4,432.7M1306,438.5L1305.2,440.4M1318.3,445.1L1317,448.1M1331.6,444.6L1331.1,447.3M1344.9,444.1L1344.8,446.6M1358.2,443.6L1358.2,445.8" stroke="#4d4550" stroke-width="9" stroke-linecap="round" fill="none"/>
<circle cx="1209.4" cy="125.9" r="16" fill="url(#cd)"/>
<circle cx="1388.9" cy="185.7" r="16" fill="url(#cd)"/>
<circle cx="1151" cy="299.3" r="16" fill="url(#cd)"/>
<circle cx="1359.8" cy="363.8" r="16" fill="url(#cd)"/>
<circle cx="1146.4" cy="412.9" r="16" fill="url(#cd)"/>
</g></g>
<ellipse cx="1227" cy="247" rx="239" ry="212" fill="none" stroke="#4a3828" stroke-width="4"/>
<rect x="897" y="475" width="681" height="420" fill="#ececee" />
<line x1="900" y1="574.5" x2="1576" y2="574.5" stroke="#5a5a5c" stroke-width="5" />
<line x1="900" y1="815.5" x2="1576" y2="815.5" stroke="#5a5a5c" stroke-width="5" />
<line x1="1077" y1="532" x2="1077" y2="886" stroke="#4a4a4c" stroke-width="5" />
<line x1="1249" y1="532" x2="1249" y2="886" stroke="#4a4a4c" stroke-width="5" />
<line x1="1420" y1="532" x2="1420" y2="886" stroke="#4a4a4c" stroke-width="5" />
<text transform="translate(1165,512) scale(1.127,1)" font-family="'Liberation Sans', sans-serif" font-size="41" font-style="italic" fill="#2e2e2e" stroke="#2e2e2e" stroke-width="1.1" text-anchor="middle">m /</text>
<text transform="translate(1165,562) scale(1.127,1)" font-family="'Liberation Sans', sans-serif" font-size="41" font-style="normal" fill="#2e2e2e" stroke="#2e2e2e" stroke-width="1.1" text-anchor="middle">mg</text>
<text transform="translate(1328,512) scale(1.127,1)" font-family="'Liberation Sans', sans-serif" font-size="41" font-style="italic" fill="#2e2e2e" stroke="#2e2e2e" stroke-width="1.1" text-anchor="middle">m /</text>
<text transform="translate(1328,562) scale(1.127,1)" font-family="'Liberation Sans', sans-serif" font-size="41" font-style="normal" fill="#2e2e2e" stroke="#2e2e2e" stroke-width="1.1" text-anchor="middle">%</text>
<text transform="translate(1497,512) scale(1.127,1)" font-family="'Liberation Sans', sans-serif" font-size="41" font-style="italic" fill="#2e2e2e" stroke="#2e2e2e" stroke-width="1.1" text-anchor="middle">vol /</text>
<text transform="translate(1497,562) scale(1.127,1)" font-family="'Liberation Sans', sans-serif" font-size="41" font-style="normal" fill="#2e2e2e" stroke="#2e2e2e" stroke-width="1.1" text-anchor="middle">%</text>
<text transform="translate(904,633) scale(1.127,1)" font-family="'Liberation Sans', sans-serif" font-size="46" font-style="normal" fill="#2e2e2e" stroke="#2e2e2e" stroke-width="1.1" text-anchor="start">MoS<tspan font-size="17" dy="7">2</tspan><tspan dy="-7" font-size="1">&#8203;</tspan></text>
<text transform="translate(1159,635) scale(1.127,1)" font-family="'Liberation Sans', sans-serif" font-size="50" font-style="normal" fill="#2e2e2e" stroke="#2e2e2e" stroke-width="1.1" text-anchor="middle">6</text>
<text transform="translate(1332,635) scale(1.127,1)" font-family="'Liberation Sans', sans-serif" font-size="50" font-style="normal" fill="#2e2e2e" stroke="#2e2e2e" stroke-width="1.1" text-anchor="middle">60</text>
<text transform="translate(1505,635) scale(1.127,1)" font-family="'Liberation Sans', sans-serif" font-size="50" font-style="normal" fill="#2e2e2e" stroke="#2e2e2e" stroke-width="1.1" text-anchor="middle">36</text>
<text transform="translate(902,707) scale(1.127,1)" font-family="'Liberation Sans', sans-serif" font-size="46" font-style="normal" fill="#2e2e2e" stroke="#2e2e2e" stroke-width="1.1" text-anchor="start">Carbon</text>
<text transform="translate(1159,709) scale(1.127,1)" font-family="'Liberation Sans', sans-serif" font-size="50" font-style="normal" fill="#2e2e2e" stroke="#2e2e2e" stroke-width="1.1" text-anchor="middle">1</text>
<text transform="translate(1332,709) scale(1.127,1)" font-family="'Liberation Sans', sans-serif" font-size="50" font-style="normal" fill="#2e2e2e" stroke="#2e2e2e" stroke-width="1.1" text-anchor="middle">10</text>
<text transform="translate(1505,709) scale(1.127,1)" font-family="'Liberation Sans', sans-serif" font-size="50" font-style="normal" fill="#2e2e2e" stroke="#2e2e2e" stroke-width="1.1" text-anchor="middle">15</text>
<text transform="translate(904,791.5) scale(1.127,1)" font-family="'Liberation Sans', sans-serif" font-size="46" font-style="normal" fill="#2e2e2e" stroke="#2e2e2e" stroke-width="1.1" text-anchor="start">Li<tspan font-size="17" dy="7">3</tspan><tspan dy="-7" font-size="1">&#8203;</tspan>PS<tspan font-size="17" dy="7">4</tspan><tspan dy="-7" font-size="1">&#8203;</tspan></text>
<text transform="translate(1159,793.5) scale(1.127,1)" font-family="'Liberation Sans', sans-serif" font-size="50" font-style="normal" fill="#2e2e2e" stroke="#2e2e2e" stroke-width="1.1" text-anchor="middle">3</text>
<text transform="translate(1332,793.5) scale(1.127,1)" font-family="'Liberation Sans', sans-serif" font-size="50" font-style="normal" fill="#2e2e2e" stroke="#2e2e2e" stroke-width="1.1" text-anchor="middle">30</text>
<text transform="translate(1505,793.5) scale(1.127,1)" font-family="'Liberation Sans', sans-serif" font-size="50" font-style="normal" fill="#2e2e2e" stroke="#2e2e2e" stroke-width="1.1" text-anchor="middle">49</text>
<text transform="translate(922,874) scale(1.127,1)" font-family="'Liberation Sans', sans-serif" font-size="46" font-style="normal" fill="#2e2e2e" stroke="#2e2e2e" stroke-width="1.1" text-anchor="start">total</text>
<text transform="translate(1159,876) scale(1.127,1)" font-family="'Liberation Sans', sans-serif" font-size="50" font-style="normal" fill="#2e2e2e" stroke="#2e2e2e" stroke-width="1.1" text-anchor="middle">10</text>
<text transform="translate(1332,876) scale(1.127,1)" font-family="'Liberation Sans', sans-serif" font-size="50" font-style="normal" fill="#2e2e2e" stroke="#2e2e2e" stroke-width="1.1" text-anchor="middle">100</text>
<text transform="translate(1505,876) scale(1.127,1)" font-family="'Liberation Sans', sans-serif" font-size="50" font-style="normal" fill="#2e2e2e" stroke="#2e2e2e" stroke-width="1.1" text-anchor="middle">100</text>
<text transform="translate(987,972) scale(1.127,1)" font-family="'Liberation Sans', sans-serif" font-size="44" font-style="italic" fill="#333" stroke="#333" stroke-width="1.1" text-anchor="start">m<tspan font-size="19" dy="5">areal</tspan><tspan dy="-5" font-size="1">&#8203;</tspan></text>
<text transform="translate(1101,972) scale(1.127,1)" font-family="'Liberation Sans', sans-serif" font-size="44" font-style="normal" fill="#333" stroke="#333" stroke-width="1.1" text-anchor="start">= 7.64 mg(MoS<tspan font-size="16" dy="8">2</tspan><tspan dy="-8" font-size="1">&#8203;</tspan>)/cm<tspan font-size="16" dy="-20">2</tspan></text>
<text transform="translate(997,1019.5) scale(1.127,1)" font-family="'Liberation Sans', sans-serif" font-size="44" font-style="italic" fill="#333" stroke="#333" stroke-width="1.1" text-anchor="start">q<tspan font-size="18" dy="5">th</tspan><tspan dy="-5" font-size="1">&#8203;</tspan></text>
<text transform="translate(1101,1019.5) scale(1.127,1)" font-family="'Liberation Sans', sans-serif" font-size="44" font-style="normal" fill="#333" stroke="#333" stroke-width="1.1" text-anchor="start">= 5.12 mAh/cm<tspan font-size="16" dy="-20">2</tspan></text>
<clipPath id="fclip"><rect x="900" y="900" width="985" height="172.5"/></clipPath>
<g clip-path="url(#fclip)"><text transform="translate(1101,1071) scale(1.127,1)" font-family="'Liberation Sans', sans-serif" font-size="44" font-style="normal" fill="#333" stroke="#333" stroke-width="1.1" text-anchor="start">= 1222 mAh/cm<tspan font-size="16" dy="-20">3</tspan></text></g>
<text transform="translate(376,556) scale(1.127,1)" font-family="'Liberation Sans', sans-serif" font-size="58" font-style="normal" fill="#4a3320" stroke="#4a3320" stroke-width="1.1" text-anchor="start">β-Li<tspan font-size="20" dy="8">3</tspan><tspan dy="-8" font-size="1">&#8203;</tspan>PS<tspan font-size="20" dy="8">4</tspan><tspan dy="-8" font-size="1">&#8203;</tspan></text>
<text transform="translate(490,616) scale(1.127,1)" font-family="'Liberation Sans', sans-serif" font-size="45" font-style="normal" fill="#4a3320" stroke="#4a3320" stroke-width="1.1" text-anchor="middle">(70 mg)</text>
<text transform="translate(298,1015) scale(1.127,1)" font-family="'Liberation Sans', sans-serif" font-size="44" font-style="normal" fill="#3a3a3a" stroke="#3a3a3a" stroke-width="1.1" text-anchor="middle">Li-In</text>
<text transform="translate(299,1065.5) scale(1.127,1)" font-family="'Liberation Sans', sans-serif" font-size="44" font-style="normal" fill="#3a3a3a" stroke="#3a3a3a" stroke-width="1.1" text-anchor="middle">anode</text>
<text transform="translate(766,1012) scale(1.127,1)" font-family="'Liberation Sans', sans-serif" font-size="45" font-style="normal" fill="#3a3a3a" stroke="#3a3a3a" stroke-width="1.1" text-anchor="middle">MoS<tspan font-size="17" dy="7">2</tspan><tspan dy="-7" font-size="1">&#8203;</tspan> composite</text>
<text transform="translate(767,1062) scale(1.127,1)" font-family="'Liberation Sans', sans-serif" font-size="45" font-style="normal" fill="#3a3a3a" stroke="#3a3a3a" stroke-width="1.1" text-anchor="middle">cathode</text>
</g>
<rect x="0" y="1185" width="1060" height="770" fill="#fefcfe"/>
<rect x="985" y="1185" width="1100" height="770" fill="#fdfdfd"/>
<rect x="0" y="1975" width="1060" height="770" fill="#fefcfe"/>
<rect x="985" y="1975" width="1100" height="760" fill="#fdfdfd"/>
<g id="chart-a" filter="url(#bC)">
<rect x="162" y="1204" width="805.5" height="629.5" fill="none" stroke="#141414" stroke-width="5"/>
<line x1="145" y1="1225" x2="162" y2="1225" stroke="#141414" stroke-width="4" />
<text x="138" y="1235.5" font-family="'Liberation Sans', sans-serif" font-size="36.5" font-weight="bold" font-style="normal" fill="#141414" text-anchor="end"  stroke="#141414" stroke-width="0.8">3.0</text>
<line x1="154" y1="1274.2" x2="162" y2="1274.2" stroke="#141414" stroke-width="3.5" />
<line x1="145" y1="1323.3" x2="162" y2="1323.3" stroke="#141414" stroke-width="4" />
<text x="138" y="1333.8" font-family="'Liberation Sans', sans-serif" font-size="36.5" font-weight="bold" font-style="normal" fill="#141414" text-anchor="end"  stroke="#141414" stroke-width="0.8">2.5</text>
<line x1="154" y1="1372.5" x2="162" y2="1372.5" stroke="#141414" stroke-width="3.5" />
<line x1="145" y1="1421.6" x2="162" y2="1421.6" stroke="#141414" stroke-width="4" />
<text x="138" y="1432.1" font-family="'Liberation Sans', sans-serif" font-size="36.5" font-weight="bold" font-style="normal" fill="#141414" text-anchor="end"  stroke="#141414" stroke-width="0.8">2.0</text>
<line x1="154" y1="1470.8" x2="162" y2="1470.8" stroke="#141414" stroke-width="3.5" />
<line x1="145" y1="1519.9" x2="162" y2="1519.9" stroke="#141414" stroke-width="4" />
<text x="138" y="1530.4" font-family="'Liberation Sans', sans-serif" font-size="36.5" font-weight="bold" font-style="normal" fill="#141414" text-anchor="end"  stroke="#141414" stroke-width="0.8">1.5</text>
<line x1="154" y1="1569.1" x2="162" y2="1569.1" stroke="#141414" stroke-width="3.5" />
<line x1="145" y1="1618.2" x2="162" y2="1618.2" stroke="#141414" stroke-width="4" />
<text x="138" y="1628.7" font-family="'Liberation Sans', sans-serif" font-size="36.5" font-weight="bold" font-style="normal" fill="#141414" text-anchor="end"  stroke="#141414" stroke-width="0.8">1.0</text>
<line x1="154" y1="1667.4" x2="162" y2="1667.4" stroke="#141414" stroke-width="3.5" />
<line x1="145" y1="1716.5" x2="162" y2="1716.5" stroke="#141414" stroke-width="4" />
<text x="138" y="1727" font-family="'Liberation Sans', sans-serif" font-size="36.5" font-weight="bold" font-style="normal" fill="#141414" text-anchor="end"  stroke="#141414" stroke-width="0.8">0.5</text>
<line x1="154" y1="1765.7" x2="162" y2="1765.7" stroke="#141414" stroke-width="3.5" />
<line x1="145" y1="1814.8" x2="162" y2="1814.8" stroke="#141414" stroke-width="4" />
<text x="138" y="1825.3" font-family="'Liberation Sans', sans-serif" font-size="36.5" font-weight="bold" font-style="normal" fill="#141414" text-anchor="end"  stroke="#141414" stroke-width="0.8">0.0</text>
<line x1="176.6" y1="1833.5" x2="176.6" y2="1849.5" stroke="#141414" stroke-width="4" />
<text x="176.6" y="1884" font-family="'Liberation Sans', sans-serif" font-size="35" font-weight="bold" font-style="normal" fill="#141414" text-anchor="middle"  stroke="#141414" stroke-width="0.8">0</text>
<line x1="235.8" y1="1833.5" x2="235.8" y2="1841.5" stroke="#141414" stroke-width="3.5" />
<line x1="294.9" y1="1833.5" x2="294.9" y2="1849.5" stroke="#141414" stroke-width="4" />
<text x="294.9" y="1884" font-family="'Liberation Sans', sans-serif" font-size="35" font-weight="bold" font-style="normal" fill="#141414" text-anchor="middle"  stroke="#141414" stroke-width="0.8">75</text>
<line x1="354.1" y1="1833.5" x2="354.1" y2="1841.5" stroke="#141414" stroke-width="3.5" />
<line x1="413.3" y1="1833.5" x2="413.3" y2="1849.5" stroke="#141414" stroke-width="4" />
<text x="413.3" y="1884" font-family="'Liberation Sans', sans-serif" font-size="35" font-weight="bold" font-style="normal" fill="#141414" text-anchor="middle"  stroke="#141414" stroke-width="0.8">150</text>
<line x1="472.5" y1="1833.5" x2="472.5" y2="1841.5" stroke="#141414" stroke-width="3.5" />
<line x1="531.6" y1="1833.5" x2="531.6" y2="1849.5" stroke="#141414" stroke-width="4" />
<text x="531.6" y="1884" font-family="'Liberation Sans', sans-serif" font-size="35" font-weight="bold" font-style="normal" fill="#141414" text-anchor="middle"  stroke="#141414" stroke-width="0.8">225</text>
<line x1="590.9" y1="1833.5" x2="590.9" y2="1841.5" stroke="#141414" stroke-width="3.5" />
<line x1="650" y1="1833.5" x2="650" y2="1849.5" stroke="#141414" stroke-width="4" />
<text x="650" y="1884" font-family="'Liberation Sans', sans-serif" font-size="35" font-weight="bold" font-style="normal" fill="#141414" text-anchor="middle"  stroke="#141414" stroke-width="0.8">300</text>
<line x1="709.2" y1="1833.5" x2="709.2" y2="1841.5" stroke="#141414" stroke-width="3.5" />
<line x1="768.4" y1="1833.5" x2="768.4" y2="1849.5" stroke="#141414" stroke-width="4" />
<text x="768.4" y="1884" font-family="'Liberation Sans', sans-serif" font-size="35" font-weight="bold" font-style="normal" fill="#141414" text-anchor="middle"  stroke="#141414" stroke-width="0.8">375</text>
<line x1="827.6" y1="1833.5" x2="827.6" y2="1841.5" stroke="#141414" stroke-width="3.5" />
<line x1="886.7" y1="1833.5" x2="886.7" y2="1849.5" stroke="#141414" stroke-width="4" />
<text x="886.7" y="1884" font-family="'Liberation Sans', sans-serif" font-size="35" font-weight="bold" font-style="normal" fill="#141414" text-anchor="middle"  stroke="#141414" stroke-width="0.8">450</text>
<line x1="945.9" y1="1833.5" x2="945.9" y2="1841.5" stroke="#141414" stroke-width="3.5" />
<text x="235.6" y="1924" font-family="'Liberation Sans', sans-serif" font-size="40" font-weight="bold" font-style="normal" fill="#141414" text-anchor="start" textLength="467" lengthAdjust="spacingAndGlyphs"  stroke="#141414" stroke-width="0.8">Specific capacity / mAhg</text>
<text x="705" y="1907" font-family="'Liberation Sans', sans-serif" font-size="34" font-weight="bold" font-style="normal" fill="#141414" text-anchor="start"  stroke="#141414" stroke-width="0.8">-1</text>
<text transform="translate(68,1537) rotate(-90)" font-family="'Liberation Sans', sans-serif" font-size="40" font-weight="bold" fill="#141414" text-anchor="middle" textLength="346" lengthAdjust="spacingAndGlyphs"  stroke="#141414" stroke-width="0.8">Voltage /V Li<tspan font-size="36" dy="-17">+</tspan><tspan dy="17">/Li-In</tspan></text>
<path d="M177.7,1474.6C181.2,1478.8 190.9,1490.7 198.6,1500C206.3,1509.3 214.9,1520.5 223.7,1530.7C232.5,1540.9 242.3,1553 251.6,1561.4C260.9,1569.8 265.6,1572.2 279.5,1581C293.4,1589.8 316.7,1603.7 335.3,1614.4C353.9,1625.1 372.4,1635.7 391,1645C409.6,1654.3 428.4,1662.5 447,1670C465.6,1677.5 484.1,1683.9 502.7,1689.7C521.3,1695.5 539.6,1700 558.5,1705C577.4,1710 597.1,1714.2 616,1720C634.9,1725.8 653.1,1733 671.6,1740C690.1,1747 708.4,1754.6 727,1762C745.6,1769.4 766.7,1777.6 783,1784.6C799.3,1791.6 811,1799.1 825,1804C839,1808.9 860,1812.3 867,1814" fill="none" stroke="#1a1a1a" stroke-width="4.4" stroke-linecap="round" stroke-linejoin="round"/>
<path d="M176,1453.5C179.7,1457.8 190.5,1470.6 198,1479C205.5,1487.4 212.1,1495.2 221,1504C229.9,1512.8 241.8,1523.2 251.6,1532C261.4,1540.8 270.2,1550.2 279.5,1556.5C288.8,1562.8 293.5,1564.6 307.4,1570C321.3,1575.4 344.4,1581.7 363,1589C381.6,1596.3 400.4,1605.8 419,1613.6C437.6,1621.4 456.2,1628.4 474.8,1636C493.4,1643.6 516.4,1653 530.6,1659C544.8,1665 545.8,1665.7 560,1672C574.2,1678.3 597.4,1688.7 616,1697C634.6,1705.3 657.7,1715 671.6,1722C685.5,1729 690.3,1732.9 699.5,1739C708.7,1745.1 717.8,1751.7 727,1758.7C736.2,1765.7 745.7,1775 755,1781C764.3,1787 773.7,1791 783,1795C792.3,1799 801.7,1802 811,1805C820.3,1808 834.3,1811.7 839,1813" fill="none" stroke="#3d3fc6" stroke-width="4.4" stroke-linecap="round" stroke-linejoin="round"/>
<path d="M176,1450.5C179.7,1454.8 190.5,1467.6 198,1476C205.5,1484.4 212.1,1492.2 221,1501C229.9,1509.8 241.8,1520.2 251.6,1529C261.4,1537.8 270.2,1547.3 279.5,1553.8C288.8,1560.2 293.5,1562 307.4,1567.5C321.3,1573 344.4,1579.4 363,1586.8C381.6,1594.1 400.4,1603.7 419,1611.6C437.6,1619.5 456.2,1626.4 474.8,1634C493.4,1641.6 516.4,1651 530.6,1657C544.8,1663 545.8,1663.7 560,1670C574.2,1676.3 597.4,1686.7 616,1695C634.6,1703.3 657.7,1713 671.6,1720C685.5,1727 690.3,1730.9 699.5,1737C708.7,1743.1 717.8,1749.7 727,1756.7C736.2,1763.7 745.7,1772.6 755,1779C764.3,1785.4 773.7,1790.5 783,1795C792.3,1799.5 802.3,1803 811,1806C819.7,1809 831,1811.8 835,1813" fill="none" stroke="#cf4fd0" stroke-width="4.4" stroke-linecap="round" stroke-linejoin="round"/>
<path d="M176,1447.5C179.7,1451.8 190.5,1464.6 198,1473C205.5,1481.4 212.1,1489.2 221,1498C229.9,1506.8 241.8,1517.3 251.6,1526C261.4,1534.7 270.2,1544 279.5,1550.2C288.8,1556.5 293.5,1558.2 307.4,1563.5C321.3,1568.8 344.4,1575.1 363,1582.2C381.6,1589.4 400.4,1598.8 419,1606.6C437.6,1614.4 456.2,1621.4 474.8,1629C493.4,1636.6 516.4,1646 530.6,1652C544.8,1658 545.8,1658.7 560,1665C574.2,1671.3 597.4,1681.7 616,1690C634.6,1698.3 657.7,1708 671.6,1715C685.5,1722 690.3,1725.9 699.5,1732C708.7,1738.1 717.8,1744.7 727,1751.7C736.2,1758.7 746.5,1766.8 755,1774C763.5,1781.2 771,1788.3 778,1795C785,1801.7 793.8,1810.8 797,1814" fill="none" stroke="#8f8c4a" stroke-width="4.4" stroke-linecap="round" stroke-linejoin="round"/>
<path d="M176,1455.5C179.7,1459.8 190.5,1472.6 198,1481C205.5,1489.4 212.1,1497.2 221,1506C229.9,1514.8 241.8,1525.5 251.6,1534C261.4,1542.5 270.2,1551.2 279.5,1557C288.8,1562.8 293.5,1564.1 307.4,1569C321.3,1573.9 344.4,1579.7 363,1586.5C381.6,1593.3 400.4,1602 419,1609.6C437.6,1617.2 456.2,1624.4 474.8,1632C493.4,1639.6 516.4,1649 530.6,1655C544.8,1661 545.8,1661.7 560,1668C574.2,1674.3 597.4,1684.7 616,1693C634.6,1701.3 657.7,1711 671.6,1718C685.5,1725 690.3,1728.9 699.5,1735C708.7,1741.1 717.8,1747.7 727,1754.7C736.2,1761.7 746.8,1770 755,1777C763.2,1784 769.7,1790.8 776,1797C782.3,1803.2 790.2,1811.2 793,1814" fill="none" stroke="#8a3f86" stroke-width="4.4" stroke-linecap="round" stroke-linejoin="round"/>
<path d="M176,1444.5C179.7,1448.8 190.5,1461.6 198,1470C205.5,1478.4 212.1,1486.2 221,1495C229.9,1503.8 241.8,1513.7 251.6,1523C261.4,1532.3 270.2,1543.3 279.5,1550.8C288.8,1558.2 293.5,1561 307.4,1567.5C321.3,1574 344.4,1581.4 363,1589.8C381.6,1598.1 400.4,1609.2 419,1617.6C437.6,1626 456.2,1632.4 474.8,1640C493.4,1647.6 516.4,1657 530.6,1663C544.8,1669 545.8,1669.7 560,1676C574.2,1682.3 597.4,1692.7 616,1701C634.6,1709.3 657.7,1719 671.6,1726C685.5,1733 690.3,1736.9 699.5,1743C708.7,1749.1 717.8,1755.7 727,1762.7C736.2,1769.7 745.7,1779.8 755,1785C764.3,1790.2 773.7,1790.8 783,1794C792.3,1797.2 801.7,1801.2 811,1804C820.3,1806.8 830,1809.3 839,1811C848,1812.7 860.7,1813.5 865,1814" fill="none" stroke="#d93a36" stroke-width="4.4" stroke-linecap="round" stroke-linejoin="round"/>
<path d="M176,1276C176,1304.5 176.1,1409.7 176,1447C175.9,1484.3 175.2,1486.5 175.5,1500C175.8,1513.5 175.7,1519.2 177.7,1528C179.7,1536.8 182.1,1544.2 187.4,1553C192.8,1561.8 202.4,1573.5 209.8,1581C217.2,1588.5 222.7,1592.2 232,1597.7C241.3,1603.2 253,1608 265.6,1614C278.2,1620 291.2,1626.5 307.4,1634C323.6,1641.5 344.4,1650.7 363,1659C381.6,1667.3 400.4,1676.1 419,1684C437.6,1691.9 456.2,1699.5 474.8,1706.5C493.4,1713.5 516.4,1720.4 530.6,1726C544.8,1731.6 550.7,1735.4 560,1740C569.3,1744.6 577.1,1748.7 586.4,1753.5C595.7,1758.3 605.6,1762.4 616,1769C626.4,1775.6 639,1785.5 649,1793C659,1800.5 671.5,1810.5 676,1814" fill="none" stroke="#d04a78" stroke-width="4.4" stroke-linecap="round" stroke-linejoin="round"/>
<path d="M176,1765C176.3,1754.2 176.8,1719.2 178,1700C179.2,1680.8 180.7,1664.2 183,1650C185.3,1635.8 188.3,1625 192,1615C195.7,1605 200,1597.5 205,1590C210,1582.5 216.2,1575.7 222,1570C227.8,1564.3 232.7,1560 240,1556C247.3,1552 249.8,1551.2 265.6,1546C281.4,1540.8 309.4,1532.7 335,1525C360.6,1517.3 391,1508.8 419,1500C447,1491.2 479.5,1480.4 503,1472C526.5,1463.6 541.2,1457 560,1449.5C578.8,1442 597.3,1435.2 616,1427C634.7,1418.8 653.5,1409.2 672,1400.6C690.5,1392 708.5,1385.3 727,1375.5C745.5,1365.7 769,1351.1 783,1342C797,1332.9 802.2,1329.2 811,1321C819.8,1312.8 830,1301.8 836,1293C842,1284.2 841.8,1279.3 847,1268C852.2,1256.7 863.7,1232.2 867,1225" fill="none" stroke="#1a1a1a" stroke-width="4.4" stroke-linecap="round" stroke-linejoin="round"/>
<path d="M176,1765C176.3,1754.2 176.8,1719.2 178,1700C179.2,1680.8 180.7,1664.2 183,1650C185.3,1635.8 188.3,1625 192,1615C195.7,1605 200,1597.5 205,1590C210,1582.5 216.2,1575.7 222,1570C227.8,1564.3 232.7,1560.5 240,1556C247.3,1551.5 249.8,1548.7 265.6,1543C281.4,1537.3 309.4,1529.7 335,1522C360.6,1514.3 391,1505.8 419,1497C447,1488.2 479.5,1477.3 503,1469C526.5,1460.7 541.2,1454.5 560,1447C578.8,1439.5 597.3,1432.4 616,1424C634.7,1415.6 653.5,1405.3 672,1396.5C690.5,1387.7 708.5,1381.2 727,1371C745.5,1360.8 769,1345.2 783,1335C797,1324.8 802.7,1318.3 811,1310C819.3,1301.7 827.4,1292.5 833,1285C838.6,1277.5 839.2,1275 844.6,1265C850,1255 862,1231.7 865.5,1225" fill="none" stroke="#d93a36" stroke-width="4.4" stroke-linecap="round" stroke-linejoin="round"/>
<path d="M176,1765C176.5,1753.3 177.6,1715 179,1695C180.4,1675 181.8,1658.9 184.6,1645C187.4,1631.1 191.8,1621.3 196,1611.6C200.2,1601.8 205.4,1593.9 210,1586.5C214.6,1579.1 219.1,1572.6 223.7,1567C228.3,1561.4 231.6,1558.2 237.7,1553C243.8,1547.8 243.8,1543.5 260,1536C276.2,1528.5 308.5,1517.7 335,1508C361.5,1498.3 391,1488.7 419,1478C447,1467.3 479.5,1453.7 503,1444C526.5,1434.3 541.2,1427.7 560,1420C578.8,1412.3 597.3,1405.4 616,1398C634.7,1390.6 653.5,1384.2 672,1375.5C690.5,1366.8 708.5,1357.9 727,1346C745.5,1334.1 767.6,1318.3 783,1304C798.4,1289.7 809.7,1273.2 819.5,1260C829.3,1246.8 838.2,1230.8 842,1225" fill="none" stroke="#3d3fc6" stroke-width="4.4" stroke-linecap="round" stroke-linejoin="round"/>
<path d="M176,1765C176.5,1753.3 177.6,1715 179,1695C180.4,1675 181.8,1658.9 184.6,1645C187.4,1631.1 191.8,1621.3 196,1611.6C200.2,1601.8 205.4,1593.9 210,1586.5C214.6,1579.1 219.1,1572.6 223.7,1567C228.3,1561.4 231.6,1559.2 237.7,1553C243.8,1546.8 243.8,1538.3 260,1530C276.2,1521.7 308.5,1512.5 335,1503C361.5,1493.5 391,1484 419,1473C447,1462 479.5,1447 503,1437C526.5,1427 541.2,1420.8 560,1413C578.8,1405.2 597.3,1397.8 616,1390C634.7,1382.2 653.5,1375.2 672,1366C690.5,1356.8 708.5,1347.7 727,1335C745.5,1322.3 769,1303 783,1290C797,1277 803.1,1267.8 811,1257C818.9,1246.2 827.3,1230.3 830.6,1225" fill="none" stroke="#cf4fd0" stroke-width="4.4" stroke-linecap="round" stroke-linejoin="round"/>
<path d="M176,1765C176.3,1750.8 176.8,1704.2 178,1680C179.2,1655.8 180.7,1636.7 183,1620C185.3,1603.3 188.3,1590.8 192,1580C195.7,1569.2 200,1562.2 205,1555C210,1547.8 216.2,1542.2 222,1537C227.8,1531.8 234.2,1527.2 240,1524C245.8,1520.8 241.2,1524.2 257,1518C272.8,1511.8 308,1498.7 335,1487C362,1475.3 391,1461 419,1448C447,1435 479.5,1419.8 503,1409C526.5,1398.2 541.2,1392 560,1383.5C578.8,1375 597.3,1366.9 616,1358C634.7,1349.1 653.5,1340.5 672,1330C690.5,1319.5 708.5,1308.5 727,1295C745.5,1281.5 769.7,1260.7 783,1249C796.3,1237.3 803,1229 807,1225" fill="none" stroke="#8f8c4a" stroke-width="4.4" stroke-linecap="round" stroke-linejoin="round"/>
<path d="M176,1765C176.3,1750.8 176.8,1704.2 178,1680C179.2,1655.8 180.7,1636.7 183,1620C185.3,1603.3 188.3,1590.8 192,1580C195.7,1569.2 200,1562.2 205,1555C210,1547.8 216.2,1542.2 222,1537C227.8,1531.8 234.2,1527.7 240,1524C245.8,1520.3 241.2,1521.8 257,1515C272.8,1508.2 308,1494.8 335,1483C362,1471.2 391,1457 419,1444C447,1431 479.5,1415.8 503,1405C526.5,1394.2 541.2,1387.8 560,1379C578.8,1370.2 597.3,1361.3 616,1352C634.7,1342.7 653.5,1334.2 672,1323C690.5,1311.8 710.8,1297.3 727,1285C743.2,1272.7 757.8,1259 769,1249C780.2,1239 789.8,1229 794,1225" fill="none" stroke="#8a3f86" stroke-width="4.4" stroke-linecap="round" stroke-linejoin="round"/>
<path d="M176,1765C176.1,1741.8 175.8,1655.7 176.3,1625.5C176.8,1595.3 177.2,1596.3 179,1583.7C180.8,1571.1 184.1,1559.8 187.4,1550C190.7,1540.2 194.9,1532 198.6,1525C202.3,1518 204.2,1513.2 209.8,1508C215.4,1502.8 222.7,1501.2 232,1494C241.3,1486.8 253.1,1476.2 265.6,1465C278.1,1453.8 290.8,1438.2 307,1427C323.2,1415.8 344.3,1406.6 363,1398C381.7,1389.4 400.3,1383 419,1375.5C437.7,1368 456.4,1361.8 475,1353C493.6,1344.2 516.4,1330.7 530.6,1322.5C544.8,1314.3 548.1,1312.1 560,1304C571.9,1295.9 588.7,1283.7 602,1274C615.3,1264.3 628.8,1254.2 640,1246C651.2,1237.8 664.2,1228.5 669,1225" fill="none" stroke="#d04a78" stroke-width="4.4" stroke-linecap="round" stroke-linejoin="round"/>
<line x1="765" y1="1419" x2="819" y2="1419" stroke="#1a1a1a" stroke-width="5.5" />
<text x="823" y="1428" font-family="'Liberation Serif', serif" font-size="26.5" font-weight="bold" font-style="normal" fill="#1a1a1a" text-anchor="start" textLength="94" lengthAdjust="spacingAndGlyphs" stroke="none">1<tspan font-size="20" dy="-12">st</tspan><tspan dy="12"> cycle</tspan></text>
<line x1="765" y1="1466" x2="819" y2="1466" stroke="#d93a36" stroke-width="5.5" />
<text x="823" y="1475" font-family="'Liberation Serif', serif" font-size="26.5" font-weight="bold" font-style="normal" fill="#1a1a1a" text-anchor="start" textLength="104" lengthAdjust="spacingAndGlyphs" stroke="none">2<tspan font-size="20" dy="-12">nd</tspan><tspan dy="12"> cycle</tspan></text>
<line x1="765" y1="1512.6" x2="819" y2="1512.6" stroke="#3d3fc6" stroke-width="5.5" />
<text x="823" y="1521.6" font-family="'Liberation Serif', serif" font-size="26.5" font-weight="bold" font-style="normal" fill="#1a1a1a" text-anchor="start" textLength="111.5" lengthAdjust="spacingAndGlyphs" stroke="none">10<tspan font-size="20" dy="-12">th</tspan><tspan dy="12"> cycle</tspan></text>
<line x1="765" y1="1560" x2="819" y2="1560" stroke="#cf4fd0" stroke-width="5.5" />
<text x="823" y="1569" font-family="'Liberation Serif', serif" font-size="26.5" font-weight="bold" font-style="normal" fill="#1a1a1a" text-anchor="start" textLength="111.5" lengthAdjust="spacingAndGlyphs" stroke="none">20<tspan font-size="20" dy="-12">th</tspan><tspan dy="12"> cycle</tspan></text>
<line x1="765" y1="1607.4" x2="819" y2="1607.4" stroke="#8f8c4a" stroke-width="5.5" />
<text x="823" y="1616.4" font-family="'Liberation Serif', serif" font-size="26.5" font-weight="bold" font-style="normal" fill="#1a1a1a" text-anchor="start" textLength="117" lengthAdjust="spacingAndGlyphs" stroke="none">50<tspan font-size="20" dy="-12">th</tspan><tspan dy="12"> cylcle</tspan></text>
<line x1="765" y1="1653.5" x2="819" y2="1653.5" stroke="#8a3f86" stroke-width="5.5" />
<text x="823" y="1662.5" font-family="'Liberation Serif', serif" font-size="26.5" font-weight="bold" font-style="normal" fill="#1a1a1a" text-anchor="start" textLength="124" lengthAdjust="spacingAndGlyphs" stroke="none">100<tspan font-size="20" dy="-12">th</tspan><tspan dy="12"> cycle</tspan></text>
<line x1="765" y1="1700" x2="819" y2="1700" stroke="#d04a78" stroke-width="5.5" />
<text x="823" y="1709" font-family="'Liberation Serif', serif" font-size="26.5" font-weight="bold" font-style="normal" fill="#1a1a1a" text-anchor="start" textLength="124" lengthAdjust="spacingAndGlyphs" stroke="none">500<tspan font-size="20" dy="-12">th</tspan><tspan dy="12"> cycle</tspan></text>
<text x="173" y="1250" font-family="'Liberation Serif', serif" font-size="38" font-weight="bold" font-style="normal" fill="#222" text-anchor="start"  stroke="#222" stroke-width="0.8">A</text>
</g>
<g id="chart-b" filter="url(#bC)">
<line x1="1147" y1="1272.5" x2="1937" y2="1272.5" stroke="#1517b4" stroke-width="8" />
<path d="M1140,1290L1141,1278L1146,1273L1170,1272L1200,1274L1230,1275L1260,1273.5L1301,1272.5" fill="none" stroke="#e6262b" stroke-width="8" stroke-linejoin="round" stroke-linecap="round"/>
<circle cx="1139" cy="1301" r="4" fill="#2a2ec8"/>
<circle cx="1139" cy="1319.5" r="4" fill="#2a2ec8"/>
<circle cx="1140.4" cy="1332" r="3.5" fill="#d83040"/>
<circle cx="1139" cy="1363" r="3.5" fill="#d83040"/>
<circle cx="1137.6" cy="1413" r="5" fill="#8a3050"/>
<circle cx="1147.4" cy="1265" r="5" fill="#5a2aa0"/>
<path d="M1137.6,1414L1140.4,1431L1147.4,1439.5L1160,1449L1175,1459L1196,1471L1217,1482.7L1259,1492.5L1287,1499.5L1296.7,1496.7L1342.7,1507.8L1450,1531L1928,1638.6" fill="none" stroke="#1517b4" stroke-width="9" stroke-linejoin="round" stroke-linecap="round"/>
<path d="M1136.3,1733L1144.6,1726L1153,1714.8L1169.7,1714.8L1203,1724.6L1259,1737L1314.8,1747.8" fill="none" stroke="#e6262b" stroke-width="9" stroke-linejoin="round" stroke-linecap="round"/>
<path d="M1334.4,1518 C1312,1565 1245,1603 1158,1610.5" fill="none" stroke="#000" stroke-width="4.5" />
<path d="M1132,1611.6 L1160,1604 L1160,1618 Z" fill="#141414"/>
<path d="M1288,1734 C1272,1686 1226,1646 1158,1631.5" fill="none" stroke="#000" stroke-width="4.5" />
<path d="M1132,1627 L1160,1625 L1157,1640 Z" fill="#141414"/>
<path d="M1626,1285 C1672,1325 1790,1352 1898,1359.5" fill="none" stroke="#000" stroke-width="4.5" />
<path d="M1927,1360.5 L1896,1353 L1896,1367 Z" fill="#141414"/>
<line x1="1128" y1="1216" x2="1930.5" y2="1216" stroke="#4f4f4f" stroke-width="6" />
<line x1="1128" y1="1838" x2="1930.5" y2="1838" stroke="#333" stroke-width="5" />
<line x1="1130" y1="1216" x2="1130" y2="1838" stroke="#141414" stroke-width="4.5" />
<line x1="1928.5" y1="1216" x2="1928.5" y2="1838" stroke="#141414" stroke-width="4.5" />
<line x1="1115" y1="1216" x2="1130" y2="1216" stroke="#141414" stroke-width="4" />
<text x="1106" y="1226" font-family="'Liberation Sans', sans-serif" font-size="36" font-weight="bold" font-style="normal" fill="#141414" text-anchor="end"  stroke="#141414" stroke-width="0.8">550</text>
<line x1="1122" y1="1260.5" x2="1130" y2="1260.5" stroke="#141414" stroke-width="3.5" />
<line x1="1115" y1="1305" x2="1130" y2="1305" stroke="#141414" stroke-width="4" />
<text x="1106" y="1315" font-family="'Liberation Sans', sans-serif" font-size="36" font-weight="bold" font-style="normal" fill="#141414" text-anchor="end"  stroke="#141414" stroke-width="0.8">500</text>
<line x1="1122" y1="1349.5" x2="1130" y2="1349.5" stroke="#141414" stroke-width="3.5" />
<line x1="1115" y1="1393.9" x2="1130" y2="1393.9" stroke="#141414" stroke-width="4" />
<text x="1106" y="1403.9" font-family="'Liberation Sans', sans-serif" font-size="36" font-weight="bold" font-style="normal" fill="#141414" text-anchor="end"  stroke="#141414" stroke-width="0.8">450</text>
<line x1="1122" y1="1438.4" x2="1130" y2="1438.4" stroke="#141414" stroke-width="3.5" />
<line x1="1115" y1="1482.8" x2="1130" y2="1482.8" stroke="#141414" stroke-width="4" />
<text x="1106" y="1492.8" font-family="'Liberation Sans', sans-serif" font-size="36" font-weight="bold" font-style="normal" fill="#141414" text-anchor="end"  stroke="#141414" stroke-width="0.8">400</text>
<line x1="1122" y1="1527.3" x2="1130" y2="1527.3" stroke="#141414" stroke-width="3.5" />
<line x1="1115" y1="1571.8" x2="1130" y2="1571.8" stroke="#141414" stroke-width="4" />
<text x="1106" y="1581.8" font-family="'Liberation Sans', sans-serif" font-size="36" font-weight="bold" font-style="normal" fill="#141414" text-anchor="end"  stroke="#141414" stroke-width="0.8">350</text>
<line x1="1122" y1="1616.3" x2="1130" y2="1616.3" stroke="#141414" stroke-width="3.5" />
<line x1="1115" y1="1660.8" x2="1130" y2="1660.8" stroke="#141414" stroke-width="4" />
<text x="1106" y="1670.8" font-family="'Liberation Sans', sans-serif" font-size="36" font-weight="bold" font-style="normal" fill="#141414" text-anchor="end"  stroke="#141414" stroke-width="0.8">300</text>
<line x1="1122" y1="1705.2" x2="1130" y2="1705.2" stroke="#141414" stroke-width="3.5" />
<line x1="1115" y1="1749.7" x2="1130" y2="1749.7" stroke="#141414" stroke-width="4" />
<text x="1106" y="1759.7" font-family="'Liberation Sans', sans-serif" font-size="36" font-weight="bold" font-style="normal" fill="#141414" text-anchor="end"  stroke="#141414" stroke-width="0.8">250</text>
<line x1="1122" y1="1794.2" x2="1130" y2="1794.2" stroke="#141414" stroke-width="3.5" />
<line x1="1115" y1="1838.7" x2="1130" y2="1838.7" stroke="#141414" stroke-width="4" />
<text x="1106" y="1848.7" font-family="'Liberation Sans', sans-serif" font-size="36" font-weight="bold" font-style="normal" fill="#141414" text-anchor="end"  stroke="#141414" stroke-width="0.8">200</text>
<line x1="1137" y1="1838" x2="1137" y2="1850.5" stroke="#141414" stroke-width="4" />
<text x="1137" y="1886" font-family="'Liberation Sans', sans-serif" font-size="35" font-weight="bold" font-style="normal" fill="#141414" text-anchor="middle"  stroke="#141414" stroke-width="0.8">0</text>
<line x1="1216" y1="1838" x2="1216" y2="1845" stroke="#141414" stroke-width="3.5" />
<line x1="1295" y1="1838" x2="1295" y2="1850.5" stroke="#141414" stroke-width="4" />
<text x="1295" y="1886" font-family="'Liberation Sans', sans-serif" font-size="35" font-weight="bold" font-style="normal" fill="#141414" text-anchor="middle"  stroke="#141414" stroke-width="0.8">100</text>
<line x1="1374" y1="1838" x2="1374" y2="1845" stroke="#141414" stroke-width="3.5" />
<line x1="1453" y1="1838" x2="1453" y2="1850.5" stroke="#141414" stroke-width="4" />
<text x="1453" y="1886" font-family="'Liberation Sans', sans-serif" font-size="35" font-weight="bold" font-style="normal" fill="#141414" text-anchor="middle"  stroke="#141414" stroke-width="0.8">200</text>
<line x1="1532" y1="1838" x2="1532" y2="1845" stroke="#141414" stroke-width="3.5" />
<line x1="1611" y1="1838" x2="1611" y2="1850.5" stroke="#141414" stroke-width="4" />
<text x="1611" y="1886" font-family="'Liberation Sans', sans-serif" font-size="35" font-weight="bold" font-style="normal" fill="#141414" text-anchor="middle"  stroke="#141414" stroke-width="0.8">300</text>
<line x1="1690" y1="1838" x2="1690" y2="1845" stroke="#141414" stroke-width="3.5" />
<line x1="1769" y1="1838" x2="1769" y2="1850.5" stroke="#141414" stroke-width="4" />
<text x="1769" y="1886" font-family="'Liberation Sans', sans-serif" font-size="35" font-weight="bold" font-style="normal" fill="#141414" text-anchor="middle"  stroke="#141414" stroke-width="0.8">400</text>
<line x1="1848" y1="1838" x2="1848" y2="1845" stroke="#141414" stroke-width="3.5" />
<line x1="1927" y1="1838" x2="1927" y2="1850.5" stroke="#141414" stroke-width="4" />
<text x="1927" y="1886" font-family="'Liberation Sans', sans-serif" font-size="35" font-weight="bold" font-style="normal" fill="#141414" text-anchor="middle"  stroke="#141414" stroke-width="0.8">500</text>
<line x1="1928.5" y1="1839.5" x2="1936.5" y2="1839.5" stroke="#141414" stroke-width="3.5" />
<text x="1950" y="1850" font-family="'Liberation Sans', sans-serif" font-size="36" font-weight="bold" font-style="normal" fill="#141414" text-anchor="start"  stroke="#141414" stroke-width="0.8">0</text>
<line x1="1928.5" y1="1782.8" x2="1933.5" y2="1782.8" stroke="#141414" stroke-width="3" />
<line x1="1928.5" y1="1726.1" x2="1936.5" y2="1726.1" stroke="#141414" stroke-width="3.5" />
<text x="1950" y="1736.6" font-family="'Liberation Sans', sans-serif" font-size="36" font-weight="bold" font-style="normal" fill="#141414" text-anchor="start"  stroke="#141414" stroke-width="0.8">20</text>
<line x1="1928.5" y1="1669.4" x2="1933.5" y2="1669.4" stroke="#141414" stroke-width="3" />
<line x1="1928.5" y1="1612.7" x2="1936.5" y2="1612.7" stroke="#141414" stroke-width="3.5" />
<text x="1950" y="1623.2" font-family="'Liberation Sans', sans-serif" font-size="36" font-weight="bold" font-style="normal" fill="#141414" text-anchor="start"  stroke="#141414" stroke-width="0.8">40</text>
<line x1="1928.5" y1="1556" x2="1933.5" y2="1556" stroke="#141414" stroke-width="3" />
<line x1="1928.5" y1="1499.3" x2="1936.5" y2="1499.3" stroke="#141414" stroke-width="3.5" />
<text x="1950" y="1509.8" font-family="'Liberation Sans', sans-serif" font-size="36" font-weight="bold" font-style="normal" fill="#141414" text-anchor="start"  stroke="#141414" stroke-width="0.8">60</text>
<line x1="1928.5" y1="1442.6" x2="1933.5" y2="1442.6" stroke="#141414" stroke-width="3" />
<line x1="1928.5" y1="1385.9" x2="1936.5" y2="1385.9" stroke="#141414" stroke-width="3.5" />
<text x="1950" y="1396.4" font-family="'Liberation Sans', sans-serif" font-size="36" font-weight="bold" font-style="normal" fill="#141414" text-anchor="start"  stroke="#141414" stroke-width="0.8">80</text>
<line x1="1928.5" y1="1329.2" x2="1933.5" y2="1329.2" stroke="#141414" stroke-width="3" />
<line x1="1928.5" y1="1272.5" x2="1936.5" y2="1272.5" stroke="#141414" stroke-width="3.5" />
<text x="1950" y="1283" font-family="'Liberation Sans', sans-serif" font-size="36" font-weight="bold" font-style="normal" fill="#141414" text-anchor="start"  stroke="#141414" stroke-width="0.8">100</text>
<text x="1385" y="1929" font-family="'Liberation Sans', sans-serif" font-size="38" font-weight="bold" font-style="normal" fill="#141414" text-anchor="start" textLength="261" lengthAdjust="spacingAndGlyphs"  stroke="#141414" stroke-width="0.8">Cycle number</text>
<text transform="translate(1025.5,1551) rotate(-90)" font-family="'Liberation Sans', sans-serif" font-size="39.5" font-weight="bold" fill="#141414" text-anchor="middle" textLength="476" lengthAdjust="spacingAndGlyphs"  stroke="#141414" stroke-width="0.8">Specific capacity /mAhg<tspan font-size="34" dy="-24">-1</tspan></text>
<text transform="translate(2026.5,1563) rotate(-90)" font-family="'Liberation Sans', sans-serif" font-size="38" font-weight="bold" fill="#141414" text-anchor="middle" textLength="378" lengthAdjust="spacingAndGlyphs"  stroke="#141414" stroke-width="0.8">Coulombic&#160; effciency</text>
<line x1="1551.6" y1="1427.7" x2="1626" y2="1427.7" stroke="#3a3cae" stroke-width="4.5" />
<circle cx="1589.6" cy="1427.7" r="4.5" fill="#2a2a9a"/>
<line x1="1551.6" y1="1478" x2="1626" y2="1478" stroke="#e84a4a" stroke-width="4.5" />
<circle cx="1589.6" cy="1478" r="4.5" fill="#d82a2a"/>
<text x="1635.7" y="1437.5" font-family="'Liberation Sans', sans-serif" font-size="32" font-weight="bold" font-style="normal" fill="#141414" text-anchor="start" textLength="278" lengthAdjust="spacingAndGlyphs"  stroke="#141414" stroke-width="0.8">MoS<tspan font-size="20" dy="9">2</tspan><tspan dy="-9"> Nanosheets</tspan></text>
<text x="1635.7" y="1488" font-family="'Liberation Sans', sans-serif" font-size="32" font-weight="bold" font-style="normal" fill="#141414" text-anchor="start" textLength="160" lengthAdjust="spacingAndGlyphs"  stroke="#141414" stroke-width="0.8">MoS<tspan font-size="20" dy="9">2</tspan><tspan dy="-9"> Bulk</tspan></text>
<text x="1139" y="1250" font-family="'Liberation Serif', serif" font-size="31" font-weight="bold" font-style="normal" fill="#222" text-anchor="start"  stroke="#222" stroke-width="0.8">B</text>
</g>
<g id="chart-c" filter="url(#bC)">
<rect x="145" y="1998" width="824.5" height="643.8" fill="none" stroke="#141414" stroke-width="5"/>
<line x1="133" y1="2035.3" x2="145" y2="2035.3" stroke="#141414" stroke-width="4" />
<text x="124.5" y="2046.3" font-family="'Liberation Sans', sans-serif" font-size="33.5" font-weight="bold" font-style="normal" fill="#141414" text-anchor="end" textLength="49" lengthAdjust="spacingAndGlyphs"  stroke="#141414" stroke-width="0.8">3.0</text>
<line x1="138" y1="2084.2" x2="145" y2="2084.2" stroke="#141414" stroke-width="3.5" />
<line x1="133" y1="2133" x2="145" y2="2133" stroke="#141414" stroke-width="4" />
<text x="124.5" y="2144" font-family="'Liberation Sans', sans-serif" font-size="33.5" font-weight="bold" font-style="normal" fill="#141414" text-anchor="end" textLength="49" lengthAdjust="spacingAndGlyphs"  stroke="#141414" stroke-width="0.8">2.5</text>
<line x1="138" y1="2181.8" x2="145" y2="2181.8" stroke="#141414" stroke-width="3.5" />
<line x1="133" y1="2230.7" x2="145" y2="2230.7" stroke="#141414" stroke-width="4" />
<text x="124.5" y="2241.7" font-family="'Liberation Sans', sans-serif" font-size="33.5" font-weight="bold" font-style="normal" fill="#141414" text-anchor="end" textLength="49" lengthAdjust="spacingAndGlyphs"  stroke="#141414" stroke-width="0.8">2.0</text>
<line x1="138" y1="2279.5" x2="145" y2="2279.5" stroke="#141414" stroke-width="3.5" />
<line x1="133" y1="2328.4" x2="145" y2="2328.4" stroke="#141414" stroke-width="4" />
<text x="124.5" y="2339.4" font-family="'Liberation Sans', sans-serif" font-size="33.5" font-weight="bold" font-style="normal" fill="#141414" text-anchor="end" textLength="49" lengthAdjust="spacingAndGlyphs"  stroke="#141414" stroke-width="0.8">1.5</text>
<line x1="138" y1="2377.2" x2="145" y2="2377.2" stroke="#141414" stroke-width="3.5" />
<line x1="133" y1="2426.1" x2="145" y2="2426.1" stroke="#141414" stroke-width="4" />
<text x="124.5" y="2437.1" font-family="'Liberation Sans', sans-serif" font-size="33.5" font-weight="bold" font-style="normal" fill="#141414" text-anchor="end" textLength="49" lengthAdjust="spacingAndGlyphs"  stroke="#141414" stroke-width="0.8">1.0</text>
<line x1="138" y1="2474.9" x2="145" y2="2474.9" stroke="#141414" stroke-width="3.5" />
<line x1="133" y1="2523.8" x2="145" y2="2523.8" stroke="#141414" stroke-width="4" />
<text x="124.5" y="2534.8" font-family="'Liberation Sans', sans-serif" font-size="33.5" font-weight="bold" font-style="normal" fill="#141414" text-anchor="end" textLength="49" lengthAdjust="spacingAndGlyphs"  stroke="#141414" stroke-width="0.8">0.5</text>
<line x1="138" y1="2572.7" x2="145" y2="2572.7" stroke="#141414" stroke-width="3.5" />
<line x1="133" y1="2621.5" x2="145" y2="2621.5" stroke="#141414" stroke-width="4" />
<text x="124.5" y="2632.5" font-family="'Liberation Sans', sans-serif" font-size="33.5" font-weight="bold" font-style="normal" fill="#141414" text-anchor="end" textLength="49" lengthAdjust="spacingAndGlyphs"  stroke="#141414" stroke-width="0.8">0.0</text>
<line x1="150.5" y1="2641.8" x2="150.5" y2="2656.8" stroke="#141414" stroke-width="4" />
<text x="150.5" y="2684.5" font-family="'Liberation Sans', sans-serif" font-size="34" font-weight="bold" font-style="normal" fill="#141414" text-anchor="middle"  stroke="#141414" stroke-width="0.8">0</text>
<line x1="232.3" y1="2641.8" x2="232.3" y2="2649.8" stroke="#141414" stroke-width="3.5" />
<line x1="314.2" y1="2641.8" x2="314.2" y2="2656.8" stroke="#141414" stroke-width="4" />
<text x="314.2" y="2684.5" font-family="'Liberation Sans', sans-serif" font-size="34" font-weight="bold" font-style="normal" fill="#141414" text-anchor="middle"  stroke="#141414" stroke-width="0.8">100</text>
<line x1="396" y1="2641.8" x2="396" y2="2649.8" stroke="#141414" stroke-width="3.5" />
<line x1="477.9" y1="2641.8" x2="477.9" y2="2656.8" stroke="#141414" stroke-width="4" />
<text x="477.9" y="2684.5" font-family="'Liberation Sans', sans-serif" font-size="34" font-weight="bold" font-style="normal" fill="#141414" text-anchor="middle"  stroke="#141414" stroke-width="0.8">200</text>
<line x1="559.8" y1="2641.8" x2="559.8" y2="2649.8" stroke="#141414" stroke-width="3.5" />
<line x1="641.6" y1="2641.8" x2="641.6" y2="2656.8" stroke="#141414" stroke-width="4" />
<text x="641.6" y="2684.5" font-family="'Liberation Sans', sans-serif" font-size="34" font-weight="bold" font-style="normal" fill="#141414" text-anchor="middle"  stroke="#141414" stroke-width="0.8">300</text>
<line x1="723.4" y1="2641.8" x2="723.4" y2="2649.8" stroke="#141414" stroke-width="3.5" />
<line x1="805.3" y1="2641.8" x2="805.3" y2="2656.8" stroke="#141414" stroke-width="4" />
<text x="805.3" y="2684.5" font-family="'Liberation Sans', sans-serif" font-size="34" font-weight="bold" font-style="normal" fill="#141414" text-anchor="middle"  stroke="#141414" stroke-width="0.8">400</text>
<line x1="887.1" y1="2641.8" x2="887.1" y2="2649.8" stroke="#141414" stroke-width="3.5" />
<line x1="969" y1="2641.8" x2="969" y2="2656.8" stroke="#141414" stroke-width="4" />
<text x="969" y="2684.5" font-family="'Liberation Sans', sans-serif" font-size="34" font-weight="bold" font-style="normal" fill="#141414" text-anchor="middle"  stroke="#141414" stroke-width="0.8">500</text>
<text x="279" y="2726" font-family="'Liberation Sans', sans-serif" font-size="39" font-weight="bold" font-style="normal" fill="#141414" text-anchor="start" textLength="466" lengthAdjust="spacingAndGlyphs"  stroke="#141414" stroke-width="0.8">Specific capacity /mAhg</text>
<text x="748" y="2706" font-family="'Liberation Sans', sans-serif" font-size="36" font-weight="bold" font-style="normal" fill="#141414" text-anchor="start"  stroke="#141414" stroke-width="0.8">-1</text>
<text transform="translate(66,2308) rotate(-90)" font-family="'Liberation Sans', sans-serif" font-size="36.5" font-weight="bold" fill="#141414" text-anchor="middle" textLength="346" lengthAdjust="spacingAndGlyphs"  stroke="#141414" stroke-width="0.8">Voltage /V Li<tspan font-size="36" dy="-17">+</tspan><tspan dy="17">/Li-In</tspan></text>
<line x1="150.9" y1="2038" x2="151.5" y2="2256" stroke="#e6b280" stroke-width="5" />
<path d="M148,2262C148.9,2266.1 149,2278.2 153.5,2286.5C158,2294.8 168.9,2305.1 175,2312C181.1,2318.9 182.7,2319.7 189.8,2327.9C196.9,2336.1 208.4,2351.6 217.7,2361.4C227,2371.2 234,2378.1 245.6,2386.5C257.2,2394.9 271.1,2401.8 287.4,2411.6C303.7,2421.3 324.6,2434.8 343.2,2445C361.8,2455.2 380.4,2465.1 399,2473C417.6,2480.9 436.2,2486.9 454.8,2492.5C473.4,2498.1 493.1,2501.8 510.6,2506.5C528.1,2511.2 542.5,2515.8 560,2520.4C577.5,2525.1 597.2,2528.8 615.8,2534.4C634.4,2540 653,2546.9 671.6,2553.9C690.2,2560.9 708.8,2569.7 727.4,2576.2C746,2582.7 766.9,2587.4 783.2,2593C799.5,2598.6 811,2605.3 825,2609.7C839,2614.1 859.9,2617.9 866.9,2619.5" fill="none" stroke="#1a1a1a" stroke-width="4.4" stroke-linecap="round" stroke-linejoin="round"/>
<path d="M151,2262.5C155,2266.9 167.2,2281.1 175,2289C182.8,2296.9 188.7,2301.9 198.1,2310C207.5,2318.1 221.4,2328.5 231.6,2337.5C241.8,2346.5 250.2,2357.2 259.5,2364C268.8,2370.8 273.4,2371.7 287.4,2378C301.3,2384.3 324.6,2394.5 343.2,2402C361.8,2409.5 380.4,2415.7 399,2423C417.6,2430.3 436.2,2438.5 454.8,2446C473.4,2453.5 493.1,2461.7 510.6,2468C528.1,2474.3 542.5,2477.2 560,2484C577.5,2490.8 597.2,2500.5 615.8,2509C634.4,2517.5 655.3,2526.7 671.6,2535C687.9,2543.3 699.5,2550 713.5,2559C727.5,2568 743,2578.7 755.3,2589C767.5,2599.3 781.7,2615.6 787,2620.9" fill="none" stroke="#3a3cc8" stroke-width="4.4" stroke-linecap="round" stroke-linejoin="round"/>
<path d="M151,2261.6C155,2265.7 167.2,2278.4 175,2286C182.8,2293.6 188.7,2298.5 198.1,2307C207.5,2315.5 221.4,2327.7 231.6,2337C241.8,2346.3 250.2,2356.3 259.5,2363C268.8,2369.7 273.4,2370.8 287.4,2377C301.3,2383.2 324.6,2392.8 343.2,2400C361.8,2407.2 380.4,2412.8 399,2420C417.6,2427.2 436.2,2435.5 454.8,2443C473.4,2450.5 493.1,2458.8 510.6,2465C528.1,2471.2 542.5,2473.3 560,2480C577.5,2486.7 597.2,2496.5 615.8,2505C634.4,2513.5 655.3,2522.5 671.6,2531C687.9,2539.5 699.5,2546.8 713.5,2556C727.5,2565.2 742.5,2575.2 755.3,2586C768,2596.8 784.2,2615.1 790,2620.9" fill="none" stroke="#8c4088" stroke-width="4.4" stroke-linecap="round" stroke-linejoin="round"/>
<path d="M151,2262.2C155,2266.5 167.2,2280.2 175,2288C182.8,2295.8 188.7,2300 198.1,2309C207.5,2318 221.4,2331.8 231.6,2341.9C241.8,2352 250.2,2362.8 259.5,2369.8C268.8,2376.8 273.4,2376.7 287.4,2383.7C301.3,2390.7 324.6,2402.3 343.2,2411.6C361.8,2420.9 380.4,2430.2 399,2439.5C417.6,2448.8 436.2,2457.2 454.8,2467.4C473.4,2477.6 496.7,2492.5 510.6,2500.9C524.6,2509.3 530.3,2512.5 538.5,2517.6C546.7,2522.7 549.4,2522.8 560,2531.6C570.6,2540.4 590.3,2559.9 601.9,2570.6C613.5,2581.3 620.3,2587.4 629.8,2595.8C639.3,2604.2 654.1,2616.7 659,2620.9" fill="none" stroke="#d653d0" stroke-width="4.4" stroke-linecap="round" stroke-linejoin="round"/>
<path d="M151,2260.7C155,2264.4 167.2,2275.8 175,2283C182.8,2290.2 188.7,2294.8 198.1,2304C207.5,2313.2 221.4,2327.8 231.6,2338C241.8,2348.2 250.2,2357.8 259.5,2365C268.8,2372.2 273.4,2374.2 287.4,2381C301.3,2387.8 324.6,2398.1 343.2,2406C361.8,2413.9 380.4,2420.9 399,2428.3C417.6,2435.8 436.2,2443.2 454.8,2450.7C473.4,2458.1 493.1,2466.5 510.6,2473C528.1,2479.5 542.5,2482.7 560,2489.7C577.5,2496.7 597.2,2506.4 615.8,2514.8C634.4,2523.2 655.3,2532.1 671.6,2540C687.9,2547.9 699.5,2553.5 713.5,2562.3C727.5,2571.1 743.7,2583.2 755.3,2593C766.9,2602.8 778.6,2616.2 783.2,2620.9" fill="none" stroke="#e0403a" stroke-width="4.4" stroke-linecap="round" stroke-linejoin="round"/>
<path d="M151,2259.8C155,2263.2 167.2,2273.1 175,2280C182.8,2286.9 188.7,2291.6 198.1,2301C207.5,2310.4 221.4,2326.2 231.6,2336.3C241.8,2346.4 250.2,2354.9 259.5,2361.4C268.8,2367.9 273.4,2369.2 287.4,2375.3C301.3,2381.4 324.6,2390.7 343.2,2397.7C361.8,2404.7 380.4,2410.2 399,2417.2C417.6,2424.2 436.2,2432.1 454.8,2439.5C473.4,2446.9 493.1,2455.8 510.6,2461.8C528.1,2467.9 542.5,2469.3 560,2475.8C577.5,2482.3 597.2,2492.5 615.8,2500.9C634.4,2509.3 655.3,2517.7 671.6,2526C687.9,2534.3 699.5,2542.2 713.5,2551C727.5,2559.8 743.7,2571.1 755.3,2579C766.9,2586.9 773.4,2591.5 783.2,2598.5C793,2605.5 808.8,2617.2 813.9,2620.9" fill="none" stroke="#f0914a" stroke-width="4.4" stroke-linecap="round" stroke-linejoin="round"/>
<path d="M152,2621C152.2,2609.3 151.8,2576.6 153.5,2551C155.2,2525.4 158.2,2490.6 161.9,2467.4C165.6,2444.2 171.2,2425.1 175.8,2411.6C180.5,2398.1 185.2,2393 189.8,2386.5C194.5,2380 196.7,2377.4 203.7,2372.5C210.7,2367.6 222.3,2360.8 231.6,2357C240.9,2353.2 240.9,2354.7 259.5,2350C278.1,2345.3 315.1,2336.5 343,2328.8C370.9,2321.1 399.1,2313 427,2303.7C454.9,2294.4 488.4,2281.4 510.6,2273C532.8,2264.6 542.5,2260.8 560,2253.4C577.5,2246 597.2,2236.2 615.8,2228.3C634.4,2220.4 653,2213.9 671.6,2206C690.2,2198.1 708.8,2190.2 727.4,2180.9C746,2171.6 769.2,2158.6 783.2,2150.2C797.2,2141.8 802.7,2138.1 811.1,2130.7C819.5,2123.3 827.4,2114.9 833.4,2105.6C839.4,2096.3 842,2086.8 847.4,2074.9C852.8,2063 862.5,2041.2 865.5,2034.4" fill="none" stroke="#1a1a1a" stroke-width="4.4" stroke-linecap="round" stroke-linejoin="round"/>
<path d="M152,2621C152.2,2609.3 151.8,2576.6 153.5,2551C155.2,2525.4 158.2,2490.6 161.9,2467.4C165.6,2444.2 171.2,2425.1 175.8,2411.6C180.5,2398.1 185.2,2393 189.8,2386.5C194.5,2380 194.4,2380.2 203.7,2372.5C213,2364.8 222.4,2351 245.6,2340C268.8,2329 312.8,2316.8 343,2306.5C373.2,2296.2 399.1,2288.8 427,2278.5C454.9,2268.2 488.4,2253.8 510.6,2245C532.8,2236.2 542.5,2232.9 560,2225.5C577.5,2218.1 597.2,2209.2 615.8,2200.4C634.4,2191.6 653,2182.7 671.6,2172.5C690.2,2162.3 711.1,2150.2 727.4,2139C743.7,2127.8 757.7,2117.2 769.3,2105.6C780.9,2094 790,2081.2 797.2,2069.3C804.4,2057.4 810,2040.2 812.5,2034.4" fill="none" stroke="#e0403a" stroke-width="4.4" stroke-linecap="round" stroke-linejoin="round"/>
<path d="M152,2621C152.5,2604.7 153.2,2553.2 154.9,2523C156.6,2492.8 158.4,2462.7 161.9,2439.5C165.4,2416.3 171.2,2397.6 175.8,2383.7C180.5,2369.8 185.2,2362.8 189.8,2355.8C194.5,2348.8 199,2346.9 203.7,2341.9C208.3,2336.9 203.8,2335.2 217.7,2326C231.6,2316.8 261.8,2300.5 287.4,2287C312.9,2273.5 343.1,2259 371,2245C398.9,2231 431.5,2215.1 454.8,2203C478.1,2190.9 493.1,2183.8 510.6,2172.5C528.1,2161.2 544.8,2148.5 560,2135C575.2,2121.5 590.3,2103.5 601.9,2091.6C613.5,2079.7 620.7,2073.2 629.8,2063.7C638.9,2054.2 651.9,2039.3 656.3,2034.4" fill="none" stroke="#d653d0" stroke-width="4.4" stroke-linecap="round" stroke-linejoin="round"/>
<path d="M152,2621C152.5,2604.7 153.2,2553.2 154.9,2523C156.6,2492.8 158.4,2462.7 161.9,2439.5C165.4,2416.3 171.2,2397.6 175.8,2383.7C180.5,2369.8 185.2,2362.8 189.8,2355.8C194.5,2348.8 196.7,2346.4 203.7,2341.9C210.7,2337.4 213,2336.6 231.6,2328.8C250.2,2321 287.4,2307.4 315.3,2295.3C343.2,2283.2 371.1,2268.6 399,2256C426.9,2243.4 459.4,2230.7 482.7,2220C505.9,2209.3 525.6,2198.8 538.5,2192C551.4,2185.2 549.4,2186.9 560,2179.5C570.6,2172.1 587.9,2158.3 601.9,2147.4C615.9,2136.5 629.8,2125.6 643.7,2114C657.7,2102.4 672.1,2091 685.6,2077.7C699.1,2064.4 718.1,2041.6 724.6,2034.4" fill="none" stroke="#3a3cc8" stroke-width="4.4" stroke-linecap="round" stroke-linejoin="round"/>
<path d="M152,2621C152.3,2606.7 152.3,2563 154,2535C155.7,2507 158.3,2476 161.9,2453C165.5,2430 171.2,2410.8 175.8,2397C180.5,2383.2 185.2,2376.8 189.8,2370C194.5,2363.2 196.7,2362.5 203.7,2356C210.7,2349.5 213,2340.8 231.6,2331C250.2,2321.2 287.4,2309.2 315.3,2297C343.2,2284.8 371.1,2270.5 399,2258C426.9,2245.5 459.4,2232.5 482.7,2222C505.9,2211.5 525.6,2201.4 538.5,2195C551.4,2188.6 547.1,2190.7 560,2183.7C572.9,2176.7 597.2,2163.7 615.8,2153C634.4,2142.3 653,2131.6 671.6,2119.5C690.2,2107.4 708.8,2094.6 727.4,2080.4C746,2066.2 773.9,2042.1 783.2,2034.4" fill="none" stroke="#8c4088" stroke-width="4.4" stroke-linecap="round" stroke-linejoin="round"/>
<path d="M152,2621C152.3,2606.7 152.3,2563 154,2535C155.7,2507 158.3,2476 161.9,2453C165.5,2430 171.2,2410.8 175.8,2397C180.5,2383.2 185.2,2376.8 189.8,2370C194.5,2363.2 196.7,2362.2 203.7,2356C210.7,2349.8 213,2342.5 231.6,2333C250.2,2323.5 287.4,2311.2 315.3,2299C343.2,2286.8 371.1,2272.5 399,2260C426.9,2247.5 459.4,2234.3 482.7,2224C505.9,2213.7 525.6,2204 538.5,2198C551.4,2192 547.1,2194 560,2187.9C572.9,2181.8 597.2,2170.5 615.8,2161.4C634.4,2152.3 653,2143.3 671.6,2133.5C690.2,2123.7 711.1,2113.1 727.4,2102.8C743.7,2092.6 755.8,2083.4 769.3,2072C782.8,2060.6 801.8,2040.7 808.3,2034.4" fill="none" stroke="#f0914a" stroke-width="4.4" stroke-linecap="round" stroke-linejoin="round"/>
<line x1="780.4" y1="2217" x2="858.5" y2="2217" stroke="#1a1a1a" stroke-width="4.5" />
<text x="869.7" y="2228.5" font-family="'Liberation Sans', sans-serif" font-size="35" font-weight="bold" font-style="normal" fill="#141414" text-anchor="start"  stroke="#141414" stroke-width="0.8">C/10</text>
<line x1="780.4" y1="2262.5" x2="858.5" y2="2262.5" stroke="#e0403a" stroke-width="4.5" />
<text x="869.7" y="2274" font-family="'Liberation Sans', sans-serif" font-size="35" font-weight="bold" font-style="normal" fill="#141414" text-anchor="start"  stroke="#141414" stroke-width="0.8">C/5</text>
<line x1="780.4" y1="2308.6" x2="858.5" y2="2308.6" stroke="#3a3cc8" stroke-width="4.5" />
<text x="869.7" y="2320.1" font-family="'Liberation Sans', sans-serif" font-size="35" font-weight="bold" font-style="normal" fill="#141414" text-anchor="start"  stroke="#141414" stroke-width="0.8">C/2</text>
<line x1="780.4" y1="2354.5" x2="858.5" y2="2354.5" stroke="#d653d0" stroke-width="4.5" />
<text x="869.7" y="2366" font-family="'Liberation Sans', sans-serif" font-size="35" font-weight="bold" font-style="normal" fill="#141414" text-anchor="start"  stroke="#141414" stroke-width="0.8">C</text>
<line x1="780.4" y1="2401.5" x2="858.5" y2="2401.5" stroke="#8c4088" stroke-width="4.5" />
<text x="869.7" y="2413" font-family="'Liberation Sans', sans-serif" font-size="35" font-weight="bold" font-style="normal" fill="#141414" text-anchor="start"  stroke="#141414" stroke-width="0.8">C/5</text>
<line x1="780.4" y1="2447.5" x2="858.5" y2="2447.5" stroke="#f0914a" stroke-width="4.5" />
<text x="869.7" y="2459" font-family="'Liberation Sans', sans-serif" font-size="35" font-weight="bold" font-style="normal" fill="#141414" text-anchor="start"  stroke="#141414" stroke-width="0.8">C/10</text>
<text x="153" y="2032.5" font-family="'Liberation Serif', serif" font-size="38" font-weight="bold" font-style="normal" fill="#222" text-anchor="start"  stroke="#222" stroke-width="0.8">C</text>
</g>
<g id="chart-d" filter="url(#bC)">
<line x1="1140.3" y1="1988.5" x2="1972.5" y2="1988.5" stroke="#141414" stroke-width="5" />
<line x1="1140.3" y1="2633" x2="1972.5" y2="2633" stroke="#141414" stroke-width="5" />
<line x1="1142.3" y1="1988.5" x2="1142.3" y2="2633" stroke="#2f2f9c" stroke-width="5" />
<line x1="1970.5" y1="1988.5" x2="1970.5" y2="2633" stroke="#cf4545" stroke-width="5" />
<line x1="1127.3" y1="1989" x2="1142.3" y2="1989" stroke="#2f2f9c" stroke-width="4" />
<text x="1119" y="2000.5" font-family="'Liberation Serif', serif" font-size="36" font-weight="bold" font-style="normal" fill="#2b2bb0" text-anchor="end"  stroke="#2b2bb0" stroke-width="0.8">550</text>
<line x1="1134.3" y1="2035" x2="1142.3" y2="2035" stroke="#2f2f9c" stroke-width="3.5" />
<line x1="1127.3" y1="2081.1" x2="1142.3" y2="2081.1" stroke="#2f2f9c" stroke-width="4" />
<text x="1119" y="2092.6" font-family="'Liberation Serif', serif" font-size="36" font-weight="bold" font-style="normal" fill="#2b2bb0" text-anchor="end"  stroke="#2b2bb0" stroke-width="0.8">500</text>
<line x1="1134.3" y1="2127.1" x2="1142.3" y2="2127.1" stroke="#2f2f9c" stroke-width="3.5" />
<line x1="1127.3" y1="2173.2" x2="1142.3" y2="2173.2" stroke="#2f2f9c" stroke-width="4" />
<text x="1119" y="2184.7" font-family="'Liberation Serif', serif" font-size="36" font-weight="bold" font-style="normal" fill="#2b2bb0" text-anchor="end"  stroke="#2b2bb0" stroke-width="0.8">450</text>
<line x1="1134.3" y1="2219.2" x2="1142.3" y2="2219.2" stroke="#2f2f9c" stroke-width="3.5" />
<line x1="1127.3" y1="2265.3" x2="1142.3" y2="2265.3" stroke="#2f2f9c" stroke-width="4" />
<text x="1119" y="2276.8" font-family="'Liberation Serif', serif" font-size="36" font-weight="bold" font-style="normal" fill="#2b2bb0" text-anchor="end"  stroke="#2b2bb0" stroke-width="0.8">400</text>
<line x1="1134.3" y1="2311.3" x2="1142.3" y2="2311.3" stroke="#2f2f9c" stroke-width="3.5" />
<line x1="1127.3" y1="2357.4" x2="1142.3" y2="2357.4" stroke="#2f2f9c" stroke-width="4" />
<text x="1119" y="2368.9" font-family="'Liberation Serif', serif" font-size="36" font-weight="bold" font-style="normal" fill="#2b2bb0" text-anchor="end"  stroke="#2b2bb0" stroke-width="0.8">350</text>
<line x1="1134.3" y1="2403.4" x2="1142.3" y2="2403.4" stroke="#2f2f9c" stroke-width="3.5" />
<line x1="1127.3" y1="2449.5" x2="1142.3" y2="2449.5" stroke="#2f2f9c" stroke-width="4" />
<text x="1119" y="2461" font-family="'Liberation Serif', serif" font-size="36" font-weight="bold" font-style="normal" fill="#2b2bb0" text-anchor="end"  stroke="#2b2bb0" stroke-width="0.8">300</text>
<line x1="1134.3" y1="2495.5" x2="1142.3" y2="2495.5" stroke="#2f2f9c" stroke-width="3.5" />
<line x1="1127.3" y1="2541.6" x2="1142.3" y2="2541.6" stroke="#2f2f9c" stroke-width="4" />
<text x="1119" y="2553.1" font-family="'Liberation Serif', serif" font-size="36" font-weight="bold" font-style="normal" fill="#2b2bb0" text-anchor="end"  stroke="#2b2bb0" stroke-width="0.8">250</text>
<line x1="1134.3" y1="2587.6" x2="1142.3" y2="2587.6" stroke="#2f2f9c" stroke-width="3.5" />
<line x1="1127.3" y1="2633.7" x2="1142.3" y2="2633.7" stroke="#2f2f9c" stroke-width="4" />
<text x="1119" y="2645.2" font-family="'Liberation Serif', serif" font-size="36" font-weight="bold" font-style="normal" fill="#2b2bb0" text-anchor="end"  stroke="#2b2bb0" stroke-width="0.8">200</text>
<line x1="1970.5" y1="2633" x2="1983.5" y2="2633" stroke="#cf4545" stroke-width="4" />
<text x="1988" y="2644.5" font-family="'Liberation Sans', sans-serif" font-size="35" font-weight="bold" font-style="normal" fill="#e0353a" text-anchor="start"  stroke="#e0353a" stroke-width="0.8">0</text>
<line x1="1970.5" y1="2574.5" x2="1977.5" y2="2574.5" stroke="#cf4545" stroke-width="3.5" />
<line x1="1970.5" y1="2516" x2="1983.5" y2="2516" stroke="#cf4545" stroke-width="4" />
<text x="1988" y="2527.5" font-family="'Liberation Sans', sans-serif" font-size="35" font-weight="bold" font-style="normal" fill="#e0353a" text-anchor="start"  stroke="#e0353a" stroke-width="0.8">20</text>
<line x1="1970.5" y1="2457.5" x2="1977.5" y2="2457.5" stroke="#cf4545" stroke-width="3.5" />
<line x1="1970.5" y1="2399" x2="1983.5" y2="2399" stroke="#cf4545" stroke-width="4" />
<text x="1988" y="2410.5" font-family="'Liberation Sans', sans-serif" font-size="35" font-weight="bold" font-style="normal" fill="#e0353a" text-anchor="start"  stroke="#e0353a" stroke-width="0.8">40</text>
<line x1="1970.5" y1="2340.5" x2="1977.5" y2="2340.5" stroke="#cf4545" stroke-width="3.5" />
<line x1="1970.5" y1="2282" x2="1983.5" y2="2282" stroke="#cf4545" stroke-width="4" />
<text x="1988" y="2293.5" font-family="'Liberation Sans', sans-serif" font-size="35" font-weight="bold" font-style="normal" fill="#e0353a" text-anchor="start"  stroke="#e0353a" stroke-width="0.8">60</text>
<line x1="1970.5" y1="2223.5" x2="1977.5" y2="2223.5" stroke="#cf4545" stroke-width="3.5" />
<line x1="1970.5" y1="2165" x2="1983.5" y2="2165" stroke="#cf4545" stroke-width="4" />
<text x="1988" y="2176.5" font-family="'Liberation Sans', sans-serif" font-size="35" font-weight="bold" font-style="normal" fill="#e0353a" text-anchor="start"  stroke="#e0353a" stroke-width="0.8">80</text>
<line x1="1970.5" y1="2106.5" x2="1977.5" y2="2106.5" stroke="#cf4545" stroke-width="3.5" />
<line x1="1970.5" y1="2048" x2="1983.5" y2="2048" stroke="#cf4545" stroke-width="4" />
<text x="1988" y="2059.5" font-family="'Liberation Sans', sans-serif" font-size="35" font-weight="bold" font-style="normal" fill="#e0353a" text-anchor="start"  stroke="#e0353a" stroke-width="0.8">100</text>
<line x1="1171.5" y1="2633" x2="1171.5" y2="2648" stroke="#141414" stroke-width="4" />
<text x="1171.5" y="2683" font-family="'Liberation Sans', sans-serif" font-size="35" font-weight="bold" font-style="normal" fill="#141414" text-anchor="middle"  stroke="#141414" stroke-width="0.8">0</text>
<line x1="1244" y1="2633" x2="1244" y2="2641" stroke="#141414" stroke-width="3.5" />
<line x1="1316.5" y1="2633" x2="1316.5" y2="2648" stroke="#141414" stroke-width="4" />
<text x="1316.5" y="2683" font-family="'Liberation Sans', sans-serif" font-size="35" font-weight="bold" font-style="normal" fill="#141414" text-anchor="middle"  stroke="#141414" stroke-width="0.8">10</text>
<line x1="1389" y1="2633" x2="1389" y2="2641" stroke="#141414" stroke-width="3.5" />
<line x1="1461.5" y1="2633" x2="1461.5" y2="2648" stroke="#141414" stroke-width="4" />
<text x="1461.5" y="2683" font-family="'Liberation Sans', sans-serif" font-size="35" font-weight="bold" font-style="normal" fill="#141414" text-anchor="middle"  stroke="#141414" stroke-width="0.8">20</text>
<line x1="1534" y1="2633" x2="1534" y2="2641" stroke="#141414" stroke-width="3.5" />
<line x1="1606.5" y1="2633" x2="1606.5" y2="2648" stroke="#141414" stroke-width="4" />
<text x="1606.5" y="2683" font-family="'Liberation Sans', sans-serif" font-size="35" font-weight="bold" font-style="normal" fill="#141414" text-anchor="middle"  stroke="#141414" stroke-width="0.8">30</text>
<line x1="1679" y1="2633" x2="1679" y2="2641" stroke="#141414" stroke-width="3.5" />
<line x1="1751.5" y1="2633" x2="1751.5" y2="2648" stroke="#141414" stroke-width="4" />
<text x="1751.5" y="2683" font-family="'Liberation Sans', sans-serif" font-size="35" font-weight="bold" font-style="normal" fill="#141414" text-anchor="middle"  stroke="#141414" stroke-width="0.8">40</text>
<line x1="1824" y1="2633" x2="1824" y2="2641" stroke="#141414" stroke-width="3.5" />
<line x1="1896.5" y1="2633" x2="1896.5" y2="2648" stroke="#141414" stroke-width="4" />
<text x="1896.5" y="2683" font-family="'Liberation Sans', sans-serif" font-size="35" font-weight="bold" font-style="normal" fill="#141414" text-anchor="middle"  stroke="#141414" stroke-width="0.8">50</text>
<text x="1406.6" y="2723" font-family="'Liberation Sans', sans-serif" font-size="40" font-weight="bold" font-style="normal" fill="#141414" text-anchor="start" textLength="270" lengthAdjust="spacingAndGlyphs"  stroke="#141414" stroke-width="0.8">Cycle Number</text>
<text transform="translate(1054,2335) rotate(-90)" font-family="'Liberation Sans', sans-serif" font-size="40" font-weight="bold" fill="#2b2bb0" text-anchor="middle" textLength="496" lengthAdjust="spacingAndGlyphs"  stroke="#2b2bb0" stroke-width="0.8">Specific capacity / mAhg<tspan font-size="30" dy="-25">-1</tspan></text>
<text transform="translate(2068,2355) rotate(-90)" font-family="'Liberation Sans', sans-serif" font-size="39" font-weight="bold" fill="#e0353a" text-anchor="middle" textLength="388" lengthAdjust="spacingAndGlyphs"  stroke="#e0353a" stroke-width="0.8">Coulombic efficiency</text>
<path d="M1186,2197L1200.5,2100.7L1215,2077L1229.5,2053L1244,2048.2" fill="none" stroke="#e0353a" stroke-width="3" />
<rect x="1182" y="2193" width="8" height="8" rx="2" fill="#e0353a"/>
<rect x="1196.5" y="2096.7" width="8" height="8" rx="2" fill="#e0353a"/>
<rect x="1211" y="2073" width="8" height="8" rx="2" fill="#e0353a"/>
<rect x="1225.5" y="2049" width="8" height="8" rx="2" fill="#e0353a"/>
<rect x="1240" y="2044.2" width="8" height="8" rx="2" fill="#e0353a"/>
<rect x="1254.5" y="2044.2" width="8" height="8" rx="2" fill="#e0353a"/>
<rect x="1269" y="2044.2" width="8" height="8" rx="2" fill="#e0353a"/>
<rect x="1283.5" y="2044.2" width="8" height="8" rx="2" fill="#e0353a"/>
<rect x="1298" y="2044.2" width="8" height="8" rx="2" fill="#e0353a"/>
<rect x="1312.5" y="2044.2" width="8" height="8" rx="2" fill="#e0353a"/>
<rect x="1327" y="2044.2" width="8" height="8" rx="2" fill="#e0353a"/>
<rect x="1341.5" y="2044.2" width="8" height="8" rx="2" fill="#e0353a"/>
<rect x="1356" y="2044.2" width="8" height="8" rx="2" fill="#e0353a"/>
<rect x="1370.5" y="2044.2" width="8" height="8" rx="2" fill="#e0353a"/>
<rect x="1385" y="2044.2" width="8" height="8" rx="2" fill="#e0353a"/>
<rect x="1399.5" y="2044.2" width="8" height="8" rx="2" fill="#e0353a"/>
<rect x="1414" y="2044.2" width="8" height="8" rx="2" fill="#e0353a"/>
<rect x="1428.5" y="2044.2" width="8" height="8" rx="2" fill="#e0353a"/>
<rect x="1443" y="2044.2" width="8" height="8" rx="2" fill="#e0353a"/>
<rect x="1457.5" y="2044.2" width="8" height="8" rx="2" fill="#e0353a"/>
<rect x="1472" y="2044.2" width="8" height="8" rx="2" fill="#e0353a"/>
<rect x="1486.5" y="2044.2" width="8" height="8" rx="2" fill="#e0353a"/>
<rect x="1501" y="2044.2" width="8" height="8" rx="2" fill="#e0353a"/>
<rect x="1515.5" y="2044.2" width="8" height="8" rx="2" fill="#e0353a"/>
<rect x="1530" y="2044.2" width="8" height="8" rx="2" fill="#e0353a"/>
<rect x="1544.5" y="2044.2" width="8" height="8" rx="2" fill="#e0353a"/>
<rect x="1559" y="2044.2" width="8" height="8" rx="2" fill="#e0353a"/>
<rect x="1573.5" y="2044.2" width="8" height="8" rx="2" fill="#e0353a"/>
<rect x="1588" y="2044.2" width="8" height="8" rx="2" fill="#e0353a"/>
<rect x="1602.5" y="2044.2" width="8" height="8" rx="2" fill="#e0353a"/>
<rect x="1617" y="2044.2" width="8" height="8" rx="2" fill="#e0353a"/>
<rect x="1631.5" y="2044.2" width="8" height="8" rx="2" fill="#e0353a"/>
<rect x="1646" y="2044.2" width="8" height="8" rx="2" fill="#e0353a"/>
<rect x="1660.5" y="2044.2" width="8" height="8" rx="2" fill="#e0353a"/>
<rect x="1675" y="2044.2" width="8" height="8" rx="2" fill="#e0353a"/>
<rect x="1689.5" y="2044.2" width="8" height="8" rx="2" fill="#e0353a"/>
<rect x="1704" y="2044.2" width="8" height="8" rx="2" fill="#e0353a"/>
<rect x="1718.5" y="2044.2" width="8" height="8" rx="2" fill="#e0353a"/>
<rect x="1733" y="2044.2" width="8" height="8" rx="2" fill="#e0353a"/>
<rect x="1747.5" y="2044.2" width="8" height="8" rx="2" fill="#e0353a"/>
<rect x="1762" y="2044.2" width="8" height="8" rx="2" fill="#e0353a"/>
<rect x="1776.5" y="2044.2" width="8" height="8" rx="2" fill="#e0353a"/>
<rect x="1791" y="2044.2" width="8" height="8" rx="2" fill="#e0353a"/>
<rect x="1805.5" y="2044.2" width="8" height="8" rx="2" fill="#e0353a"/>
<rect x="1820" y="2044.2" width="8" height="8" rx="2" fill="#e0353a"/>
<rect x="1834.5" y="2044.2" width="8" height="8" rx="2" fill="#e0353a"/>
<rect x="1849" y="2044.2" width="8" height="8" rx="2" fill="#e0353a"/>
<rect x="1863.5" y="2044.2" width="8" height="8" rx="2" fill="#e0353a"/>
<rect x="1878" y="2044.2" width="8" height="8" rx="2" fill="#e0353a"/>
<rect x="1892.5" y="2044.2" width="8" height="8" rx="2" fill="#e0353a"/>
<line x1="1244" y1="2204" x2="1258.5" y2="2257" stroke="#2b2bb0" stroke-width="3" />
<line x1="1316.5" y1="2269" x2="1331" y2="2355.5" stroke="#2b2bb0" stroke-width="3" />
<line x1="1389" y1="2366.6" x2="1403.5" y2="2431.4" stroke="#2b2bb0" stroke-width="3" />
<line x1="1461.5" y1="2443" x2="1476" y2="2291.9" stroke="#2b2bb0" stroke-width="3" />
<line x1="1534" y1="2300" x2="1548.5" y2="2261" stroke="#2b2bb0" stroke-width="3" />
<rect x="1182" y="2193" width="8" height="8" rx="2" fill="#2b2bb0"/>
<rect x="1196.5" y="2195.8" width="8" height="8" rx="2" fill="#2b2bb0"/>
<rect x="1211" y="2197.2" width="8" height="8" rx="2" fill="#2b2bb0"/>
<rect x="1225.5" y="2198.6" width="8" height="8" rx="2" fill="#2b2bb0"/>
<rect x="1240" y="2200" width="8" height="8" rx="2" fill="#2b2bb0"/>
<rect x="1254.5" y="2253" width="8" height="8" rx="2" fill="#2b2bb0"/>
<rect x="1269" y="2257" width="8" height="8" rx="2" fill="#2b2bb0"/>
<rect x="1283.5" y="2262.7" width="8" height="8" rx="2" fill="#2b2bb0"/>
<rect x="1298" y="2265" width="8" height="8" rx="2" fill="#2b2bb0"/>
<rect x="1312.5" y="2265" width="8" height="8" rx="2" fill="#2b2bb0"/>
<rect x="1327" y="2351.5" width="8" height="8" rx="2" fill="#2b2bb0"/>
<rect x="1341.5" y="2356.2" width="8" height="8" rx="2" fill="#2b2bb0"/>
<rect x="1356" y="2359" width="8" height="8" rx="2" fill="#2b2bb0"/>
<rect x="1370.5" y="2361" width="8" height="8" rx="2" fill="#2b2bb0"/>
<rect x="1385" y="2362.6" width="8" height="8" rx="2" fill="#2b2bb0"/>
<rect x="1399.5" y="2427.4" width="8" height="8" rx="2" fill="#2b2bb0"/>
<rect x="1414" y="2431.5" width="8" height="8" rx="2" fill="#2b2bb0"/>
<rect x="1428.5" y="2435.7" width="8" height="8" rx="2" fill="#2b2bb0"/>
<rect x="1443" y="2438" width="8" height="8" rx="2" fill="#2b2bb0"/>
<rect x="1457.5" y="2439" width="8" height="8" rx="2" fill="#2b2bb0"/>
<rect x="1472" y="2287.9" width="8" height="8" rx="2" fill="#2b2bb0"/>
<rect x="1486.5" y="2290" width="8" height="8" rx="2" fill="#2b2bb0"/>
<rect x="1501" y="2292" width="8" height="8" rx="2" fill="#2b2bb0"/>
<rect x="1515.5" y="2294" width="8" height="8" rx="2" fill="#2b2bb0"/>
<rect x="1530" y="2296" width="8" height="8" rx="2" fill="#2b2bb0"/>
<rect x="1544.5" y="2257" width="8" height="8" rx="2" fill="#2b2bb0"/>
<rect x="1559" y="2257.6" width="8" height="8" rx="2" fill="#2b2bb0"/>
<rect x="1573.5" y="2258.2" width="8" height="8" rx="2" fill="#2b2bb0"/>
<rect x="1588" y="2258.8" width="8" height="8" rx="2" fill="#2b2bb0"/>
<rect x="1602.5" y="2259.4" width="8" height="8" rx="2" fill="#2b2bb0"/>
<rect x="1617" y="2260.1" width="8" height="8" rx="2" fill="#2b2bb0"/>
<rect x="1631.5" y="2260.7" width="8" height="8" rx="2" fill="#2b2bb0"/>
<rect x="1646" y="2261.3" width="8" height="8" rx="2" fill="#2b2bb0"/>
<rect x="1660.5" y="2261.9" width="8" height="8" rx="2" fill="#2b2bb0"/>
<rect x="1675" y="2262.5" width="8" height="8" rx="2" fill="#2b2bb0"/>
<rect x="1689.5" y="2263.1" width="8" height="8" rx="2" fill="#2b2bb0"/>
<rect x="1704" y="2263.7" width="8" height="8" rx="2" fill="#2b2bb0"/>
<rect x="1718.5" y="2264.3" width="8" height="8" rx="2" fill="#2b2bb0"/>
<rect x="1733" y="2265" width="8" height="8" rx="2" fill="#2b2bb0"/>
<rect x="1747.5" y="2265.6" width="8" height="8" rx="2" fill="#2b2bb0"/>
<rect x="1762" y="2266.2" width="8" height="8" rx="2" fill="#2b2bb0"/>
<rect x="1776.5" y="2266.8" width="8" height="8" rx="2" fill="#2b2bb0"/>
<rect x="1791" y="2267.4" width="8" height="8" rx="2" fill="#2b2bb0"/>
<rect x="1805.5" y="2268" width="8" height="8" rx="2" fill="#2b2bb0"/>
<rect x="1820" y="2268.6" width="8" height="8" rx="2" fill="#2b2bb0"/>
<rect x="1834.5" y="2269.2" width="8" height="8" rx="2" fill="#2b2bb0"/>
<rect x="1849" y="2269.9" width="8" height="8" rx="2" fill="#2b2bb0"/>
<rect x="1863.5" y="2270.5" width="8" height="8" rx="2" fill="#2b2bb0"/>
<rect x="1878" y="2271.1" width="8" height="8" rx="2" fill="#2b2bb0"/>
<rect x="1892.5" y="2271.7" width="8" height="8" rx="2" fill="#2b2bb0"/>
<rect x="1181.5" y="2192.5" width="9" height="9" rx="2" fill="#7a3060"/>
<text x="1189.7" y="2188.6" font-family="'Liberation Sans', sans-serif" font-size="38" font-weight="bold" font-style="normal" fill="#2b2bb0" text-anchor="start"  stroke="#2b2bb0" stroke-width="0.8">C/10</text>
<text x="1259.5" y="2252.7" font-family="'Liberation Sans', sans-serif" font-size="38" font-weight="bold" font-style="normal" fill="#2b2bb0" text-anchor="start"  stroke="#2b2bb0" stroke-width="0.8">C/5</text>
<text x="1340.4" y="2357.4" font-family="'Liberation Sans', sans-serif" font-size="38" font-weight="bold" font-style="normal" fill="#2b2bb0" text-anchor="start"  stroke="#2b2bb0" stroke-width="0.8">C/2</text>
<text x="1417" y="2425.8" font-family="'Liberation Sans', sans-serif" font-size="38" font-weight="bold" font-style="normal" fill="#2b2bb0" text-anchor="start"  stroke="#2b2bb0" stroke-width="0.8">C</text>
<text x="1479" y="2285.5" font-family="'Liberation Sans', sans-serif" font-size="38" font-weight="bold" font-style="normal" fill="#2b2bb0" text-anchor="start"  stroke="#2b2bb0" stroke-width="0.8">C/5</text>
<text x="1618.7" y="2254.7" font-family="'Liberation Sans', sans-serif" font-size="38" font-weight="bold" font-style="normal" fill="#2b2bb0" text-anchor="start"  stroke="#2b2bb0" stroke-width="0.8">C/10</text>
<path d="M1258,2257 L1258,2314 L1190,2314" fill="none" stroke="#2b2bb0" stroke-width="5.5" />
<path d="M1159,2314 L1192,2306 L1192,2322 Z" fill="#2b2bb0"/>
<path d="M1736.5,2048 L1736.5,2135 L1940,2135" fill="none" stroke="#e0353a" stroke-width="6" />
<path d="M1963,2135 L1936,2128 L1936,2142 Z" fill="#e0353a"/>
<text x="1149" y="2030" font-family="'Liberation Serif', serif" font-size="34" font-weight="bold" font-style="normal" fill="#222" text-anchor="start"  stroke="#222" stroke-width="0.8">D</text>
</g>
<g id="labels" filter="url(#bL)">
<text x="2277" y="632.2" font-family="'Liberation Sans', sans-serif" font-size="89" fill="#111" stroke="#fff" stroke-width="0.25">(<tspan font-size="79" dx="-1">a</tspan><tspan dx="-1">)</tspan></text>
<text x="2277.5" y="1992.2" font-family="'Liberation Sans', sans-serif" font-size="87" fill="#111" stroke="#fff" stroke-width="0.25">(<tspan font-size="80" dx="0">b</tspan><tspan dx="0">)</tspan></text>
</g>
</svg></body></html>
